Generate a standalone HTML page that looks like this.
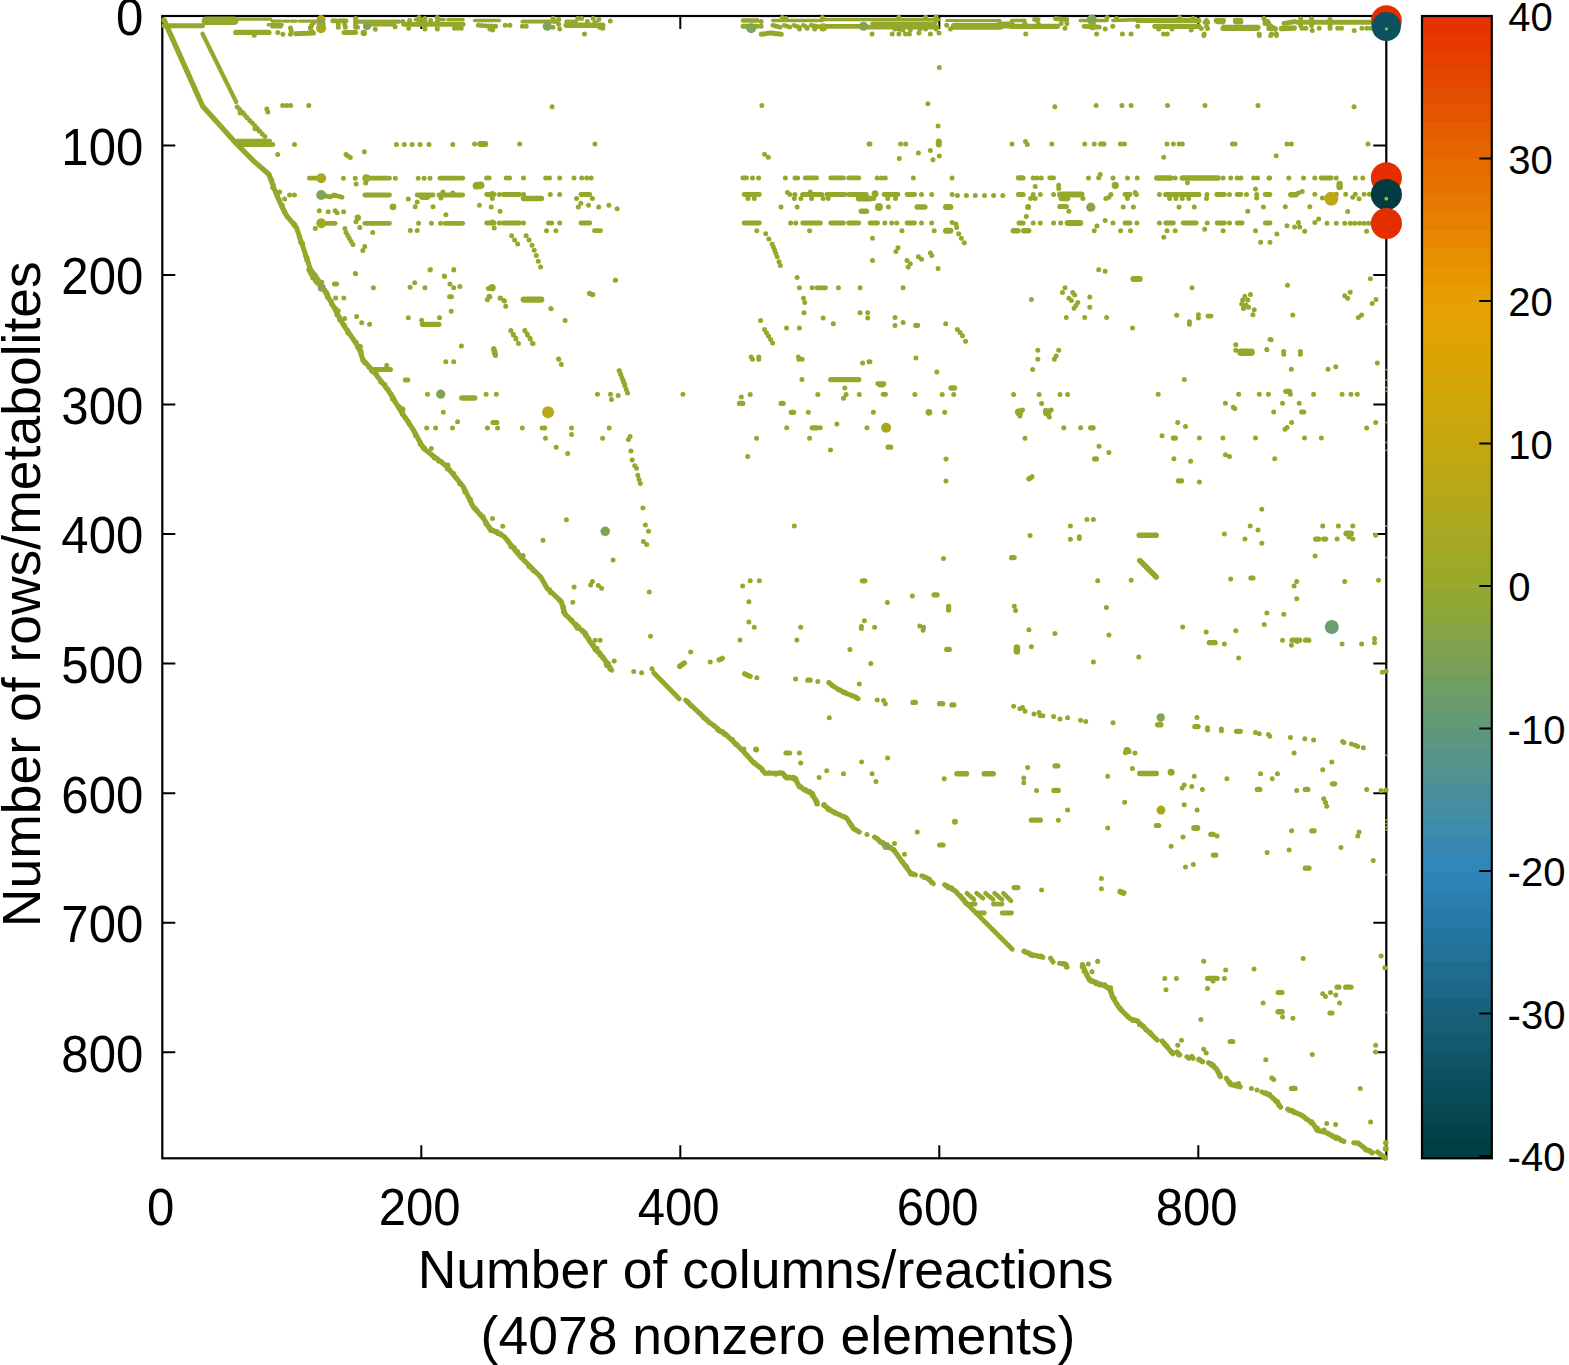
<!DOCTYPE html>
<html><head><meta charset="utf-8"><title>Sparsity pattern</title>
<style>html,body{margin:0;padding:0;background:#fff}svg{display:block}text{font-family:"Liberation Sans",sans-serif;fill:#000}</style></head>
<body>
<svg width="1569" height="1365" viewBox="0 0 1569 1365">
<rect x="0" y="0" width="1569" height="1365" fill="#fff"/>
<rect x="1422.0" y="16.00" width="69.8" height="18.45" fill="#e63200"/><rect x="1422.0" y="33.85" width="69.8" height="18.45" fill="#e63800"/><rect x="1422.0" y="51.70" width="69.8" height="18.45" fill="#e54000"/><rect x="1422.0" y="69.55" width="69.8" height="18.45" fill="#e54600"/><rect x="1422.0" y="87.39" width="69.8" height="18.45" fill="#e54e00"/><rect x="1422.0" y="105.24" width="69.8" height="18.45" fill="#e55500"/><rect x="1422.0" y="123.09" width="69.8" height="18.45" fill="#e55d00"/><rect x="1422.0" y="140.94" width="69.8" height="18.45" fill="#e56400"/><rect x="1422.0" y="158.79" width="69.8" height="18.45" fill="#e56c00"/><rect x="1422.0" y="176.64" width="69.8" height="18.45" fill="#e57300"/><rect x="1422.0" y="194.48" width="69.8" height="18.45" fill="#e67a00"/><rect x="1422.0" y="212.33" width="69.8" height="18.45" fill="#e68100"/><rect x="1422.0" y="230.18" width="69.8" height="18.45" fill="#e68800"/><rect x="1422.0" y="248.03" width="69.8" height="18.45" fill="#e68f00"/><rect x="1422.0" y="265.88" width="69.8" height="18.45" fill="#e69600"/><rect x="1422.0" y="283.73" width="69.8" height="18.45" fill="#e69d00"/><rect x="1422.0" y="301.57" width="69.8" height="18.45" fill="#e4a101"/><rect x="1422.0" y="319.42" width="69.8" height="18.45" fill="#e1a202"/><rect x="1422.0" y="337.27" width="69.8" height="18.45" fill="#dda303"/><rect x="1422.0" y="355.12" width="69.8" height="18.45" fill="#daa404"/><rect x="1422.0" y="372.97" width="69.8" height="18.45" fill="#d6a506"/><rect x="1422.0" y="390.82" width="69.8" height="18.45" fill="#d1a608"/><rect x="1422.0" y="408.67" width="69.8" height="18.45" fill="#cca60b"/><rect x="1422.0" y="426.51" width="69.8" height="18.45" fill="#c7a70d"/><rect x="1422.0" y="444.36" width="69.8" height="18.45" fill="#c2a710"/><rect x="1422.0" y="462.21" width="69.8" height="18.45" fill="#bca714"/><rect x="1422.0" y="480.06" width="69.8" height="18.45" fill="#b7a819"/><rect x="1422.0" y="497.91" width="69.8" height="18.45" fill="#b1a81d"/><rect x="1422.0" y="515.76" width="69.8" height="18.45" fill="#aba821"/><rect x="1422.0" y="533.60" width="69.8" height="18.45" fill="#a5a824"/><rect x="1422.0" y="551.45" width="69.8" height="18.45" fill="#9fa928"/><rect x="1422.0" y="569.30" width="69.8" height="18.45" fill="#99a92b"/><rect x="1422.0" y="587.15" width="69.8" height="18.45" fill="#93a832"/><rect x="1422.0" y="605.00" width="69.8" height="18.45" fill="#8ca63c"/><rect x="1422.0" y="622.85" width="69.8" height="18.45" fill="#85a445"/><rect x="1422.0" y="640.70" width="69.8" height="18.45" fill="#7ea24f"/><rect x="1422.0" y="658.54" width="69.8" height="18.45" fill="#78a059"/><rect x="1422.0" y="676.39" width="69.8" height="18.45" fill="#709e62"/><rect x="1422.0" y="694.24" width="69.8" height="18.45" fill="#6a9c6c"/><rect x="1422.0" y="712.09" width="69.8" height="18.45" fill="#629a75"/><rect x="1422.0" y="729.94" width="69.8" height="18.45" fill="#5c987f"/><rect x="1422.0" y="747.79" width="69.8" height="18.45" fill="#569588"/><rect x="1422.0" y="765.63" width="69.8" height="18.45" fill="#509392"/><rect x="1422.0" y="783.48" width="69.8" height="18.45" fill="#4a909b"/><rect x="1422.0" y="801.33" width="69.8" height="18.45" fill="#448ea4"/><rect x="1422.0" y="819.18" width="69.8" height="18.45" fill="#3e8cab"/><rect x="1422.0" y="837.03" width="69.8" height="18.45" fill="#3889b2"/><rect x="1422.0" y="854.88" width="69.8" height="18.45" fill="#3287b9"/><rect x="1422.0" y="872.72" width="69.8" height="18.45" fill="#2e84b9"/><rect x="1422.0" y="890.57" width="69.8" height="18.45" fill="#2a7fb0"/><rect x="1422.0" y="908.42" width="69.8" height="18.45" fill="#287ba8"/><rect x="1422.0" y="926.27" width="69.8" height="18.45" fill="#24769f"/><rect x="1422.0" y="944.12" width="69.8" height="18.45" fill="#227297"/><rect x="1422.0" y="961.97" width="69.8" height="18.45" fill="#1e6c8f"/><rect x="1422.0" y="979.82" width="69.8" height="18.45" fill="#1c6886"/><rect x="1422.0" y="997.66" width="69.8" height="18.45" fill="#18627e"/><rect x="1422.0" y="1015.51" width="69.8" height="18.45" fill="#165e76"/><rect x="1422.0" y="1033.36" width="69.8" height="18.45" fill="#12596f"/><rect x="1422.0" y="1051.21" width="69.8" height="18.45" fill="#105467"/><rect x="1422.0" y="1069.06" width="69.8" height="18.45" fill="#0c4f60"/><rect x="1422.0" y="1086.91" width="69.8" height="18.45" fill="#0a4b58"/><rect x="1422.0" y="1104.75" width="69.8" height="18.45" fill="#074752"/><rect x="1422.0" y="1122.60" width="69.8" height="18.45" fill="#04424a"/><rect x="1422.0" y="1140.45" width="69.8" height="18.45" fill="#013e44"/>
<rect x="1422.0" y="16.0" width="69.8" height="1142.3" fill="none" stroke="#000" stroke-width="2.2"/>
<text x="1508.2" y="31.4" font-size="40">40</text>
<text x="1508.2" y="173.9" font-size="40">30</text>
<text x="1508.2" y="316.4" font-size="40">20</text>
<text x="1508.2" y="458.9" font-size="40">10</text>
<text x="1508.2" y="601.4" font-size="40">0</text>
<text x="1507.6" y="743.9" font-size="40">-10</text>
<text x="1507.6" y="886.3" font-size="40">-20</text>
<text x="1507.6" y="1028.8" font-size="40">-30</text>
<text x="1507.6" y="1171.3" font-size="40">-40</text>
<path d="M1479.3 158.6H1491.8M1479.3 301.1H1491.8M1479.3 443.6H1491.8M1479.3 586.1H1491.8M1479.3 728.6H1491.8M1479.3 871.0H1491.8M1479.3 1013.5H1491.8M1479.3 1156.0H1491.8" stroke="#000" stroke-width="2" fill="none"/>
<rect x="162.3" y="16.0" width="1224.0" height="1142.3" fill="none" stroke="#000" stroke-width="2.2"/>
<text transform="translate(160.7 1224.7) scale(.95 1)" font-size="51.7" text-anchor="middle">0</text>
<text transform="translate(419.7 1224.7) scale(.95 1)" font-size="51.7" text-anchor="middle">200</text>
<text transform="translate(678.7 1224.7) scale(.95 1)" font-size="51.7" text-anchor="middle">400</text>
<text transform="translate(937.7 1224.7) scale(.95 1)" font-size="51.7" text-anchor="middle">600</text>
<text transform="translate(1196.7 1224.7) scale(.95 1)" font-size="51.7" text-anchor="middle">800</text>
<text transform="translate(143.3 35.3) scale(.95 1)" font-size="51.7" text-anchor="end">0</text>
<text transform="translate(143.3 164.8) scale(.95 1)" font-size="51.7" text-anchor="end">100</text>
<text transform="translate(143.3 294.4) scale(.95 1)" font-size="51.7" text-anchor="end">200</text>
<text transform="translate(143.3 423.9) scale(.95 1)" font-size="51.7" text-anchor="end">300</text>
<text transform="translate(143.3 553.4) scale(.95 1)" font-size="51.7" text-anchor="end">400</text>
<text transform="translate(143.3 682.9) scale(.95 1)" font-size="51.7" text-anchor="end">500</text>
<text transform="translate(143.3 812.5) scale(.95 1)" font-size="51.7" text-anchor="end">600</text>
<text transform="translate(143.3 942.0) scale(.95 1)" font-size="51.7" text-anchor="end">700</text>
<text transform="translate(143.3 1071.5) scale(.95 1)" font-size="51.7" text-anchor="end">800</text>
<path d="M421.3 1158.3v-13M421.3 16.0v13M680.3 1158.3v-13M680.3 16.0v13M939.3 1158.3v-13M939.3 16.0v13M1198.3 1158.3v-13M1198.3 16.0v13M162.3 145.5h13M1386.3 145.5h-13M162.3 275.1h13M1386.3 275.1h-13M162.3 404.6h13M1386.3 404.6h-13M162.3 534.1h13M1386.3 534.1h-13M162.3 663.6h13M1386.3 663.6h-13M162.3 793.2h13M1386.3 793.2h-13M162.3 922.7h13M1386.3 922.7h-13M162.3 1052.2h13M1386.3 1052.2h-13" stroke="#000" stroke-width="2" fill="none"/>
<path d="M268.7 174.6h0M270.3 177.7h0M271.7 179.7h0M272.0 181.0h0M273.4 185.1h0M272.7 187.5h0M276.5 192.4h0M277.5 195.2h0M279.0 199.3h0M282.3 205.3h0M282.0 207.3h0M283.4 209.7h0M284.2 212.1h0M287.5 216.9h0M293.7 223.2h0M294.9 224.8h0M294.7 225.9h0M299.4 236.7h0M300.5 242.1h0M302.7 243.6h0M305.5 255.5h0M307.2 257.9h0M306.7 259.7h0M308.3 262.4h0M309.8 267.8h0M315.1 275.2h0M237.2 106.9h0M239.7 109.6h0M242.2 112.3h0M244.7 115.0h0M247.2 117.7h0M249.7 120.4h0M252.3 123.1h0M254.8 125.8h0M257.3 128.5h0M259.8 131.2h0M262.3 133.9h0M264.9 136.6h0M240.1 112.9h0M243.1 112.9h0M247.0 117.8h0M255.0 128.7h0M258.9 130.7h0M272.8 144.5h0M294.5 144.5h0M277.7 154.4h0M396.4 144.5h0M404.3 144.5h0M412.2 144.5h0M420.1 144.5h0M429.0 144.5h0M452.8 144.5h0M346.0 154.4h0M347.9 156.0h0M350.3 157.4h0M364.4 151.8h0M282.7 105.4h0M286.6 105.4h0M290.6 105.4h0M308.8 105.4h0M266.8 108.9h0M267.8 111.9h0M343.4 178.2h0M355.3 178.2h0M395.4 178.2h0M418.2 178.2h0M424.1 178.2h0M430.0 178.2h0M356.2 184.1h0M365.7 183.1h0M289.6 195.0h0M294.5 195.0h0M284.6 198.9h0M279.7 192.0h0M408.3 198.9h0M442.9 192.0h0M440.9 197.9h0M452.8 193.0h0M319.3 210.8h0M328.2 211.8h0M335.1 210.8h0M337.1 212.8h0M343.6 211.8h0M357.8 217.7h0M355.9 221.7h0M415.2 206.8h0M417.2 201.9h0M433.0 206.8h0M445.9 214.8h0M315.3 228.6h0M345.0 228.6h0M359.8 227.6h0M372.7 232.6h0M410.3 230.6h0M417.2 230.6h0M418.6 223.3h0M431.4 223.3h0M440.5 223.3h0M346.0 232.6h0M347.7 235.5h0M349.4 238.5h0M351.2 241.5h0M352.9 244.4h0M364.8 246.4h0M362.8 250.4h0M355.3 273.5h0M430.4 269.6h0M444.3 276.1h0M453.8 269.6h0M290.5 27.9h0M291.2 31.1h0M290.5 34.3h0M254.2 35.2h0M277.8 32.4h0M282.9 34.3h0M311.6 31.1h0M310.3 27.9h0M311.6 25.4h0M313.5 22.8h0M338.3 24.7h0M344.7 24.7h0M338.3 27.3h0M345.4 27.3h0M355.6 18.4h0M355.6 20.7h0M355.6 23.0h0M355.6 25.3h0M355.6 27.3h0M357.5 27.3h0M375.3 29.2h0M395.1 26.7h0M408.6 28.2h0M424.9 28.2h0M437.3 28.2h0M454.5 28.2h0M419.1 17.6h0M419.1 21.5h0M424.9 18.6h0M424.9 21.5h0M424.9 29.1h0M437.3 17.6h0M437.3 21.5h0M437.3 29.1h0M402.9 21.5h0M409.6 20.5h0M430.6 20.5h0M457.4 28.2h0M461.2 28.2h0M478.4 25.3h0M481.8 25.5h0M485.3 25.7h0M488.7 25.9h0M492.2 26.1h0M495.6 26.3h0M489.9 29.1h0M492.7 30.1h0M505.2 25.3h0M509.9 25.3h0M522.4 26.3h0M526.2 26.3h0M553.0 18.6h0M554.9 21.5h0M558.7 19.6h0M558.7 24.3h0M559.7 29.1h0M553.0 27.2h0M577.8 18.6h0M581.6 18.6h0M593.1 18.6h0M598.9 19.6h0M599.8 27.2h0M602.7 28.2h0M584.5 33.9h0M610.3 21.1h0M587.4 21.5h0M595.0 22.4h0M761.2 21.5h0M761.2 26.3h0M782.2 17.6h0M786.0 18.6h0M799.4 29.1h0M807.1 28.2h0M814.7 29.1h0M822.4 17.6h0M822.4 29.1h0M872.1 33.9h0M892.2 33.9h0M898.9 33.9h0M905.5 33.9h0M909.4 33.9h0M918.9 32.9h0M930.4 33.9h0M939.0 32.9h0M895.0 29.1h0M902.7 30.1h0M910.3 30.1h0M919.9 29.1h0M936.1 16.7h0M936.1 20.5h0M936.1 29.1h0M898.9 17.3h0M898.9 29.1h0M925.6 17.3h0M925.6 29.1h0M946.7 25.3h0M950.5 29.1h0M1065.0 28.2h0M1025.8 33.9h0M1024.9 23.4h0M1038.2 23.4h0M1061.2 23.4h0M1066.9 23.4h0M1105.2 29.1h0M1112.8 26.3h0M1137.7 26.3h0M1107.1 17.6h0M1116.6 18.6h0M1179.7 17.6h0M1193.1 18.6h0M1206.5 20.5h0M1206.5 26.3h0M1096.6 33.9h0M1122.4 33.9h0M1131.0 33.9h0M1163.5 33.9h0M1167.3 33.9h0M1204.2 33.9h0M1158.7 29.1h0M1172.1 29.1h0M1191.2 30.1h0M1263.9 18.6h0M1267.7 21.5h0M1259.1 33.9h0M1271.5 33.9h0M1276.3 33.9h0M1205.1 22.2h0M1207.6 22.2h0M1207.6 28.6h0M1201.3 28.6h0M1203.8 35.6h0M1264.4 19.6h0M1265.0 23.5h0M1268.8 23.5h0M1259.3 35.6h0M1270.7 35.6h0M1276.5 35.6h0M1302.0 28.3h0M1305.8 28.3h0M1319.2 28.3h0M1330.0 28.3h0M1337.7 28.3h0M1341.5 28.3h0M1361.9 28.3h0M1367.0 28.3h0M1370.8 28.3h0M1312.2 30.5h0M1354.2 30.5h0M1300.7 19.0h0M1311.5 19.0h0M1330.0 19.4h0M1300.7 25.4h0M1311.5 25.4h0M1330.0 25.4h0M552.1 106.8h0M761.9 105.5h0M764.5 154.2h0M768.3 157.3h0M474.6 144.0h0M519.7 144.0h0M594.9 144.0h0M869.0 144.0h0M486.6 177.9h0M489.1 177.9h0M506.2 177.9h0M509.5 177.9h0M523.5 177.9h0M545.7 177.9h0M549.5 177.9h0M559.7 177.9h0M574.0 177.9h0M581.7 177.9h0M586.8 177.9h0M591.1 177.9h0M752.5 177.9h0M758.6 177.9h0M785.4 177.9h0M795.0 177.9h0M797.6 177.9h0M499.3 194.5h0M523.5 194.5h0M550.3 194.5h0M559.7 194.5h0M795.0 194.5h0M787.4 192.5h0M789.9 194.5h0M810.3 191.9h0M492.4 198.6h0M576.6 198.6h0M592.4 198.6h0M747.9 198.6h0M754.3 198.6h0M794.3 198.6h0M800.9 198.6h0M811.6 198.6h0M823.1 198.6h0M828.2 198.6h0M479.4 205.2h0M491.2 207.0h0M500.1 211.3h0M580.9 203.2h0M578.3 207.0h0M588.5 205.2h0M598.7 207.0h0M608.9 205.2h0M617.1 208.8h0M781.0 207.0h0M797.1 207.0h0M499.3 223.0h0M523.5 223.0h0M548.5 223.0h0M551.6 223.0h0M559.7 223.0h0M790.7 223.0h0M795.8 223.0h0M494.2 228.1h0M546.5 230.7h0M555.9 230.7h0M756.8 230.7h0M765.7 233.8h0M809.6 230.7h0M511.6 235.8h0M514.6 240.1h0M517.7 244.0h0M526.1 235.8h0M529.1 240.1h0M532.0 245.2h0M534.2 250.3h0M536.3 255.4h0M538.3 261.3h0M540.6 266.9h0M768.8 238.9h0M772.1 244.0h0M774.7 250.3h0M777.2 256.7h0M779.0 261.8h0M780.3 265.6h0M773.4 247.0h0M775.9 253.6h0M615.3 280.2h0M797.1 277.6h0M488.4 288.6h0M489.1 296.2h0M487.3 299.5h0M500.1 298.3h0M503.9 300.5h0M505.7 306.2h0M589.8 293.2h0M592.9 294.4h0M550.8 308.5h0M565.1 320.4h0M799.4 287.8h0M812.1 287.8h0M838.4 287.8h0M860.1 287.8h0M803.5 298.3h0M804.7 302.6h0M804.0 312.8h0M860.1 312.8h0M867.7 312.8h0M867.7 317.9h0M823.1 317.9h0M833.3 323.7h0M760.6 320.4h0M786.6 328.1h0M799.4 328.1h0M510.8 330.6h0M513.3 334.9h0M515.9 339.1h0M518.4 343.4h0M524.8 330.6h0M527.5 334.9h0M530.3 339.1h0M533.0 343.4h0M764.5 329.4h0M766.5 332.7h0M768.5 336.1h0M770.6 339.5h0M772.6 342.9h0M493.7 349.0h0M495.0 352.3h0M495.5 355.4h0M558.5 358.9h0M561.3 364.5h0M751.2 356.9h0M752.5 359.2h0M758.8 356.9h0M758.8 359.2h0M798.4 356.9h0M798.9 359.2h0M802.2 359.2h0M862.6 363.0h0M869.0 361.7h0M619.1 370.7h0M620.5 374.0h0M621.9 377.4h0M623.3 380.8h0M624.7 384.2h0M801.9 379.6h0M939.3 67.5h0M927.9 103.7h0M938.1 125.9h0M918.4 152.9h0M930.4 150.4h0M939.3 156.0h0M933.0 159.8h0M899.3 158.5h0M1163.7 157.3h0M1096.1 105.5h0M1121.9 105.5h0M1131.1 105.5h0M1167.5 105.5h0M1205.0 105.5h0M1258.0 105.5h0M1054.8 106.8h0M870.0 144.0h0M900.6 144.0h0M905.7 144.0h0M1012.0 144.0h0M1051.8 144.0h0M1084.7 144.0h0M1094.3 144.0h0M1120.4 144.0h0M1124.4 144.0h0M1232.5 144.0h0M1235.1 144.0h0M1025.5 141.5h0M1027.3 144.5h0M1167.0 144.0h0M1173.4 144.0h0M1179.2 144.0h0M1182.3 144.0h0M877.1 177.9h0M881.5 177.9h0M885.3 177.9h0M913.3 177.9h0M952.1 177.9h0M1033.2 177.9h0M1037.0 177.9h0M1041.3 177.9h0M1088.5 177.9h0M1113.0 177.9h0M1127.5 177.9h0M1137.2 177.9h0M1175.2 177.9h0M1223.1 177.9h0M1230.7 177.9h0M1237.1 177.9h0M1240.9 177.9h0M1253.7 177.9h0M1257.5 177.9h0M1269.0 177.9h0M1098.7 177.7h0M1100.2 174.6h0M1035.2 186.6h0M1058.7 185.3h0M1058.7 188.4h0M1187.4 182.8h0M921.5 194.5h0M931.7 194.5h0M952.1 194.5h0M1033.2 194.5h0M1040.3 194.5h0M1053.6 194.5h0M1110.9 194.5h0M1159.4 194.5h0M1207.0 194.5h0M1229.5 194.5h0M1246.5 194.5h0M957.4 195.5h0M966.4 195.5h0M975.3 195.5h0M984.5 195.5h0M993.6 195.5h0M1002.8 195.5h0M1135.1 192.5h0M1136.4 194.5h0M1255.5 189.1h0M1256.7 194.5h0M1256.7 198.1h0M873.8 198.6h0M887.8 198.6h0M895.5 198.6h0M1030.6 198.6h0M1035.2 198.6h0M1082.9 198.6h0M1105.8 198.6h0M1127.5 198.6h0M1169.6 198.6h0M1175.9 198.6h0M1182.3 198.6h0M1188.7 198.6h0M1206.5 198.6h0M1108.9 197.3h0M888.4 207.0h0M1123.2 207.0h0M1133.4 207.0h0M1179.0 207.0h0M1194.3 207.0h0M1263.4 207.0h0M1068.9 211.3h0M1247.8 211.3h0M1026.3 216.4h0M884.8 223.0h0M891.7 223.0h0M896.8 223.0h0M921.5 223.0h0M931.7 223.0h0M1033.2 223.0h0M1040.3 223.0h0M1053.6 223.0h0M1060.7 223.0h0M1113.0 223.0h0M1136.9 223.0h0M1159.4 223.0h0M1207.3 223.0h0M1229.5 223.0h0M952.1 222.5h0M955.9 224.1h0M1105.1 220.5h0M901.9 230.7h0M934.2 230.7h0M1120.6 230.7h0M1130.5 230.7h0M1167.0 230.7h0M1175.2 230.7h0M1223.1 230.7h0M1255.5 230.7h0M956.7 227.4h0M958.7 233.8h0M961.3 238.3h0M964.3 242.7h0M1096.9 226.1h0M1094.3 230.7h0M1204.7 229.2h0M1163.7 237.3h0M1260.6 242.2h0M1270.0 242.2h0M872.5 238.3h0M872.5 260.5h0M898.0 247.8h0M896.0 251.6h0M930.4 252.9h0M931.7 255.4h0M918.4 256.7h0M921.5 259.2h0M907.0 260.5h0M910.3 263.8h0M908.2 266.9h0M938.1 268.4h0M1098.7 269.7h0M1105.1 271.2h0M903.1 287.8h0M1192.0 287.8h0M1065.0 287.8h0M1062.5 292.4h0M1072.7 292.4h0M1074.7 294.9h0M1068.9 298.3h0M1071.4 300.5h0M1077.8 302.6h0M1076.0 305.6h0M1074.0 308.2h0M1089.8 297.0h0M1089.8 307.2h0M1031.4 299.5h0M1244.8 296.2h0M1250.4 294.4h0M1242.7 300.0h0M1247.8 300.0h0M1241.7 303.9h0M1246.0 305.1h0M1243.5 308.5h0M1248.6 307.2h0M1254.2 309.7h0M1252.9 314.8h0M1066.3 317.4h0M1084.7 317.4h0M1106.6 317.4h0M1176.7 315.3h0M1198.4 314.8h0M1198.4 317.9h0M1189.4 321.7h0M1189.4 324.3h0M1132.6 328.1h0M895.0 317.4h0M895.0 325.5h0M903.1 322.5h0M945.7 323.7h0M957.4 329.4h0M960.0 332.4h0M962.5 335.7h0M965.6 341.3h0M1037.8 350.3h0M1037.8 359.2h0M1032.7 369.6h0M1058.7 350.3h0M1056.1 356.1h0M1054.3 359.2h0M915.9 357.9h0M936.8 371.9h0M870.0 361.7h0M1235.8 344.7h0M1235.8 350.3h0M1266.9 349.8h0M1270.0 339.6h0M1184.3 379.6h0M1354.0 106.7h0M1276.2 155.8h0M1276.9 234.1h0M1287.0 144.1h0M1291.3 144.1h0M1367.9 144.1h0M1269.8 178.0h0M1288.8 178.0h0M1303.5 178.0h0M1314.8 178.0h0M1336.3 178.0h0M1355.3 178.0h0M1362.8 178.0h0M1298.4 192.9h0M1302.2 191.6h0M1322.4 198.0h0M1352.7 197.2h0M1359.1 198.7h0M1314.8 194.2h0M1336.3 194.2h0M1345.7 194.2h0M1355.3 194.2h0M1364.1 194.2h0M1369.4 194.2h0M1285.3 206.8h0M1309.8 206.8h0M1347.7 211.4h0M1287.0 225.8h0M1294.6 227.0h0M1298.4 222.5h0M1299.7 227.0h0M1304.7 231.3h0M1314.8 222.5h0M1318.6 218.9h0M1366.6 231.3h0M1327.0 223.2h0M1336.3 223.2h0M1344.7 223.2h0M1350.2 223.2h0M1354.8 223.2h0M1359.6 223.2h0M1364.1 223.2h0M1368.4 223.2h0M1371.9 223.2h0M1370.4 278.8h0M1287.5 285.2h0M1350.2 292.2h0M1344.7 295.8h0M1347.7 298.3h0M1376.0 299.6h0M1372.2 303.4h0M1361.6 315.0h0M1358.3 317.5h0M1292.8 315.0h0M1271.1 339.7h0M1266.8 349.4h0M1283.7 351.4h0M1283.7 354.2h0M1300.4 351.4h0M1300.4 354.2h0M1291.3 369.3h0M1328.0 369.3h0M1335.8 366.8h0M1377.3 363.0h0M309.6 270.1h0M310.7 273.1h0M311.6 274.0h0M312.7 277.8h0M316.0 281.4h0M317.8 283.5h0M322.6 286.4h0M324.8 289.9h0M326.7 292.6h0M327.7 294.5h0M327.4 297.2h0M331.2 301.6h0M331.4 304.1h0M335.6 308.5h0M336.2 310.4h0M336.9 314.7h0M338.9 316.7h0M339.7 320.0h0M344.4 325.2h0M347.5 330.2h0M347.8 333.1h0M355.3 341.8h0M356.2 342.8h0M357.4 346.9h0M359.0 349.5h0M361.1 351.4h0M360.8 353.6h0M363.1 360.8h0M364.6 362.8h0M368.9 367.2h0M371.3 370.4h0M372.3 371.5h0M376.2 373.8h0M380.7 382.1h0M384.7 384.5h0M386.1 388.0h0M388.0 389.6h0M391.2 394.3h0M392.9 397.1h0M392.5 398.9h0M394.8 401.3h0M398.0 406.3h0M399.6 407.1h0M400.5 408.5h0M402.2 413.9h0M405.1 417.6h0M408.2 421.2h0M409.3 423.8h0M414.0 431.4h0M415.3 433.5h0M415.4 435.6h0M420.1 443.9h0M422.7 446.6h0M424.6 448.1h0M432.5 455.7h0M434.3 457.9h0M437.1 458.6h0M438.5 460.9h0M439.7 461.0h0M441.5 461.8h0M445.8 465.5h0M446.9 467.1h0M447.4 468.9h0M453.7 473.6h0M455.9 477.6h0M459.7 483.8h0M464.0 489.3h0M464.7 491.8h0M470.6 499.6h0M471.4 503.4h0M473.5 507.4h0M475.8 508.8h0M477.4 511.1h0M480.1 514.0h0M480.7 514.9h0M483.0 516.5h0M486.0 524.1h0M488.5 526.3h0M489.9 528.3h0M490.8 530.4h0M493.4 531.1h0M497.1 531.6h0M497.9 533.6h0M500.7 533.7h0M507.7 540.3h0M508.8 542.2h0M510.7 546.2h0M511.1 546.7h0M514.3 547.6h0M515.2 550.3h0M517.5 551.6h0M517.8 553.1h0M519.4 554.7h0M521.5 557.8h0M528.9 566.5h0M531.7 568.4h0M533.3 570.7h0M540.1 576.4h0M549.6 589.8h0M550.5 592.5h0M559.2 600.3h0M562.0 604.8h0M563.5 607.1h0M563.0 608.5h0M563.4 611.8h0M564.8 612.8h0M321.7 282.2h0M338.2 310.8h0M344.6 318.4h0M360.4 346.5h0M386.7 365.6h0M431.3 448.5h0M447.9 465.0h0M492.5 518.6h0M502.7 526.2h0M523.1 555.5h0M572.8 602.2h0M355.6 273.8h0M430.0 270.0h0M453.7 270.0h0M444.6 276.4h0M334.4 284.0h0M336.5 284.0h0M373.4 287.8h0M414.7 282.7h0M410.1 287.3h0M424.9 287.8h0M449.9 284.0h0M453.7 287.8h0M459.8 286.6h0M449.6 296.8h0M451.4 296.8h0M451.2 311.3h0M335.7 298.0h0M343.8 298.0h0M356.6 316.4h0M361.7 322.8h0M369.6 324.3h0M408.3 317.7h0M421.6 320.2h0M439.5 317.7h0M488.7 288.4h0M489.9 296.8h0M487.4 299.8h0M500.6 298.0h0M504.5 301.1h0M505.7 306.2h0M551.1 308.8h0M565.1 320.5h0M589.4 293.5h0M592.4 294.7h0M615.6 280.2h0M510.8 330.7h0M513.4 334.2h0M515.9 338.3h0M518.5 343.4h0M524.9 330.7h0M527.4 334.2h0M530.0 338.3h0M532.5 343.4h0M461.4 346.0h0M445.8 361.8h0M453.7 361.8h0M558.8 359.2h0M561.3 364.3h0M427.5 394.2h0M486.1 394.2h0M496.3 394.2h0M597.5 394.2h0M610.5 394.2h0M618.2 395.4h0M611.5 399.5h0M682.9 394.2h0M443.3 412.3h0M619.4 370.7h0M620.8 374.4h0M622.2 378.2h0M623.5 381.9h0M624.9 385.7h0M626.2 389.4h0M627.6 393.1h0M426.7 428.1h0M435.6 428.1h0M452.5 428.1h0M457.6 421.7h0M487.4 428.1h0M497.6 428.1h0M522.3 428.1h0M542.2 428.1h0M544.7 428.1h0M571.5 428.1h0M571.5 434.4h0M609.2 428.1h0M545.5 438.3h0M602.6 438.3h0M556.2 447.2h0M567.7 453.6h0M630.1 436.5h0M628.4 439.5h0M630.9 451.0h0M632.2 459.9h0M634.7 465.8h0M636.5 468.3h0M637.8 475.2h0M639.1 479.6h0M640.3 483.6h0M642.9 507.9h0M645.4 524.9h0M648.5 531.3h0M643.4 541.5h0M646.7 544.6h0M566.4 519.8h0M543.0 540.2h0M613.1 559.9h0M574.1 586.9h0M592.4 581.5h0M590.6 584.9h0M598.3 585.4h0M601.6 588.2h0M649.3 592.0h0M571.7 620.1h0M576.1 624.2h0M576.4 626.3h0M582.3 630.6h0M582.8 632.0h0M585.2 634.9h0M585.9 635.8h0M589.0 639.0h0M591.9 643.2h0M593.7 645.6h0M595.2 649.7h0M597.1 651.1h0M597.2 651.2h0M599.7 652.7h0M600.3 655.3h0M602.5 657.5h0M604.0 659.3h0M606.2 661.8h0M610.0 667.2h0M609.9 669.0h0M595.1 640.2h0M600.2 640.2h0M614.2 660.9h0M633.7 671.4h0M641.6 672.7h0M650.5 636.3h0M690.7 651.9h0M652.0 668.8h0M687.4 701.6h0M688.5 702.6h0M690.9 705.4h0M700.1 713.4h0M703.6 717.2h0M704.0 717.9h0M707.0 720.1h0M709.1 722.5h0M711.1 723.4h0M714.1 725.6h0M717.2 728.4h0M718.9 730.2h0M750.2 394.4h0M817.8 394.4h0M846.1 394.4h0M859.3 394.4h0M914.9 394.4h0M942.2 394.4h0M953.7 394.4h0M1013.6 394.4h0M1039.1 394.4h0M1060.0 394.4h0M1067.6 394.4h0M741.3 397.0h0M844.8 388.1h0M843.5 398.3h0M1041.6 403.4h0M808.3 412.3h0M873.4 412.3h0M944.7 412.3h0M1017.4 411.8h0M1022.5 410.0h0M1018.7 413.6h0M1019.9 416.1h0M1045.4 410.5h0M1051.1 410.0h0M1047.2 413.6h0M1049.3 416.9h0M786.7 427.8h0M820.3 427.8h0M867.0 427.8h0M1063.8 427.8h0M1080.6 427.8h0M836.9 424.0h0M756.6 438.3h0M809.6 438.3h0M1025.0 438.3h0M830.5 450.0h0M1099.0 446.2h0M747.7 456.4h0M946.0 458.9h0M946.0 481.1h0M794.3 526.0h0M1087.0 519.6h0M1093.4 519.6h0M1070.4 526.0h0M1030.1 535.4h0M1070.4 539.2h0M1079.3 536.7h0M1079.3 538.5h0M943.5 558.6h0M750.2 580.8h0M759.4 580.8h0M742.6 585.9h0M1097.7 580.8h0M748.9 601.7h0M912.4 596.1h0M887.4 602.5h0M1014.3 606.3h0M1015.6 610.6h0M748.9 622.1h0M754.3 627.2h0M800.7 627.2h0M864.4 620.8h0M861.4 626.4h0M861.4 628.5h0M874.6 627.2h0M919.8 625.9h0M923.6 627.2h0M923.1 630.3h0M1028.9 629.7h0M1054.9 633.6h0M740.0 639.9h0M796.9 639.9h0M849.9 649.4h0M1031.4 646.8h0M710.2 662.1h0M870.8 663.4h0M1093.4 662.1h0M756.9 677.7h0M795.6 678.9h0M817.8 681.5h0M829.1 682.6h0M831.5 684.6h0M833.0 686.1h0M838.4 689.5h0M840.1 690.0h0M842.8 691.5h0M843.7 692.4h0M845.0 692.5h0M846.8 693.8h0M851.3 695.5h0M855.8 697.1h0M857.9 698.7h0M859.3 684.0h0M877.2 699.9h0M883.6 700.6h0M885.3 703.7h0M829.3 717.7h0M1013.6 706.2h0M1019.9 708.8h0M1022.5 707.5h0M1025.0 711.3h0M1034.0 713.9h0M1039.1 712.6h0M1040.3 715.7h0M1042.9 715.7h0M1053.6 716.4h0M1060.0 719.0h0M1067.6 717.7h0M1080.6 720.2h0M1085.7 721.5h0M1158.2 394.3h0M1238.6 394.3h0M1259.3 394.3h0M1268.4 394.3h0M1290.4 394.3h0M1313.6 394.3h0M1342.1 394.3h0M1351.0 394.3h0M1357.3 394.3h0M1225.4 403.2h0M1233.3 407.2h0M1234.8 408.5h0M1282.5 403.2h0M1299.2 403.2h0M1273.7 412.0h0M1177.7 422.6h0M1185.5 426.4h0M1291.6 422.6h0M1287.1 427.4h0M1285.0 429.2h0M1366.7 428.0h0M1375.7 422.6h0M1199.4 438.1h0M1222.9 438.1h0M1255.5 438.1h0M1304.5 438.1h0M1321.4 438.1h0M1162.0 435.8h0M1108.9 452.5h0M1225.4 454.7h0M1229.5 456.5h0M1173.9 458.8h0M1190.6 461.3h0M1274.7 458.8h0M1199.4 482.0h0M1261.8 509.3h0M1250.2 526.0h0M1258.0 530.0h0M1224.4 534.1h0M1244.9 539.1h0M1261.8 543.2h0M1322.7 526.0h0M1338.4 526.0h0M1352.8 526.0h0M1337.1 539.1h0M1349.0 537.1h0M1352.8 539.1h0M1375.7 535.3h0M1315.1 556.0h0M1131.2 580.3h0M1230.7 579.0h0M1296.7 581.6h0M1294.1 585.9h0M1344.7 581.6h0M1378.5 580.3h0M1296.7 598.7h0M1106.4 607.6h0M1266.9 612.9h0M1283.8 614.2h0M1264.3 624.5h0M1182.7 627.0h0M1206.2 632.1h0M1235.8 630.8h0M1224.4 644.0h0M1238.6 658.1h0M1138.8 656.9h0M1108.9 634.9h0M1282.5 640.2h0M1291.4 645.2h0M1297.2 641.4h0M1342.1 644.0h0M1361.6 644.0h0M1374.5 638.4h0M1374.5 642.7h0M1382.3 672.3h0M1386.1 671.3h0M1113.0 722.8h0M1196.9 717.5h0M1207.5 727.8h0M1221.4 729.1h0M722.2 731.5h0M724.5 734.5h0M732.5 739.5h0M735.9 744.4h0M736.8 744.2h0M741.6 749.6h0M745.3 753.6h0M747.3 755.5h0M754.3 762.6h0M759.3 766.9h0M762.5 770.6h0M765.1 773.0h0M769.3 772.7h0M775.7 774.3h0M779.8 772.8h0M782.2 772.9h0M784.8 775.3h0M787.0 778.3h0M789.0 777.0h0M793.3 777.3h0M795.7 780.6h0M799.5 787.0h0M804.1 789.3h0M805.5 789.6h0M807.1 790.9h0M812.4 793.2h0M812.4 795.7h0M813.3 795.9h0M815.7 799.4h0M817.0 801.3h0M816.6 803.8h0M824.2 804.5h0M828.1 809.4h0M829.0 810.1h0M834.4 812.0h0M834.7 813.1h0M844.8 817.1h0M849.6 822.5h0M852.1 825.6h0M867.0 834.5h0M877.3 838.8h0M880.4 842.2h0M883.0 842.4h0M887.6 847.6h0M890.5 847.3h0M893.2 849.4h0M894.2 850.8h0M902.8 862.0h0M905.8 865.8h0M906.7 866.7h0M910.6 873.9h0M912.2 874.2h0M924.1 877.4h0M929.5 879.2h0M931.5 882.3h0M946.6 885.7h0M947.9 887.6h0M949.9 888.0h0M952.0 888.1h0M953.3 889.9h0M956.8 892.2h0M960.7 896.0h0M963.6 899.0h0M965.2 902.3h0M966.1 903.4h0M1024.5 951.1h0M1028.8 953.0h0M1030.8 955.2h0M1031.8 954.9h0M1033.5 955.7h0M1037.9 955.9h0M1041.2 956.0h0M1063.2 963.7h0M1064.5 963.8h0M1067.1 966.9h0M1082.2 966.6h0M1082.5 967.3h0M1084.2 971.4h0M1086.8 975.3h0M1089.6 979.1h0M1096.2 983.7h0M1097.2 983.2h0M1099.4 983.7h0M743.8 749.1h0M799.4 752.9h0M800.7 763.1h0M819.1 777.4h0M826.7 770.8h0M843.5 773.8h0M861.6 761.9h0M887.6 758.0h0M872.1 773.8h0M875.9 781.5h0M809.6 791.2h0M793.1 778.4h0M944.2 778.7h0M1027.6 767.5h0M1023.8 777.9h0M1023.8 782.8h0M1036.5 790.4h0M1067.6 810.1h0M1058.4 820.2h0M917.2 832.0h0M894.5 843.4h0M904.5 854.2h0M1041.6 890.1h0M1088.3 964.0h0M1097.7 961.5h0M1092.1 971.7h0M1207.5 730.0h0M1221.4 730.8h0M1255.5 732.5h0M1259.3 733.8h0M1268.4 734.5h0M1269.9 736.3h0M1290.4 737.6h0M1304.8 738.8h0M1313.6 740.1h0M1342.6 741.4h0M1343.9 742.6h0M1351.5 743.9h0M1355.3 745.2h0M1357.8 746.4h0M1363.4 747.7h0M1125.4 752.7h0M1129.2 751.5h0M1135.0 753.0h0M1294.1 753.0h0M1331.8 762.1h0M1322.7 769.7h0M1132.4 768.4h0M1107.7 776.2h0M1194.3 776.2h0M1226.9 778.8h0M1260.5 773.7h0M1277.5 773.7h0M1272.2 778.8h0M1184.2 785.1h0M1182.2 788.1h0M1191.8 786.6h0M1202.4 789.4h0M1296.7 790.6h0M1366.7 789.4h0M1381.1 790.6h0M1386.1 789.9h0M1124.6 802.3h0M1184.2 804.8h0M1197.1 810.1h0M1323.7 798.7h0M1325.5 802.5h0M1326.7 806.3h0M1107.7 828.0h0M1183.0 837.1h0M1217.1 835.9h0M1171.1 846.2h0M1185.5 866.9h0M1193.3 864.4h0M1291.6 830.8h0M1359.1 832.1h0M1357.8 836.1h0M1267.1 852.5h0M1289.1 850.0h0M1340.9 847.5h0M1373.2 860.4h0M1101.4 878.6h0M1101.4 888.7h0M1097.6 961.2h0M1092.0 971.8h0M1203.7 961.2h0M1164.8 978.4h0M1176.4 978.4h0M1213.0 980.9h0M1225.7 970.0h0M1224.4 978.4h0M1207.5 988.5h0M1166.0 989.7h0M1254.0 969.0h0M1303.2 958.6h0M1381.1 956.1h0M1384.8 967.7h0M1263.1 1002.9h0M1282.5 1017.0h0M1292.9 1018.3h0M1200.9 1019.5h0M1322.7 993.8h0M1325.5 996.5h0M1330.5 992.5h0M1335.8 995.0h0M1339.6 1002.9h0M1181.5 1040.3h0M1177.7 1045.3h0M1203.7 1049.3h0M1206.2 1053.1h0M1265.8 1059.7h0M1312.3 1054.4h0M1375.7 1045.3h0M1375.7 1051.9h0M1091.1 981.2h0M1092.9 981.8h0M1095.9 981.9h0M1103.5 985.4h0M1106.0 986.2h0M1106.4 986.9h0M1108.2 988.3h0M1110.7 991.3h0M1111.5 993.3h0M1112.3 996.3h0M1114.3 998.5h0M1116.9 1004.2h0M1120.2 1007.9h0M1127.9 1016.6h0M1132.7 1020.4h0M1134.0 1020.5h0M1137.4 1020.8h0M1139.5 1024.4h0M1141.5 1025.1h0M1143.3 1026.0h0M1146.0 1029.9h0M1150.1 1032.3h0M1151.3 1034.1h0M1104.8 984.7h0M1110.7 987.7h0M1165.0 1044.8h0M1166.8 1045.8h0M1171.2 1051.5h0M1173.3 1052.8h0M1178.7 1055.0h0M1199.1 1058.9h0M1201.9 1061.3h0M1210.8 1063.5h0M1212.4 1064.4h0M1213.7 1065.6h0M1214.8 1067.7h0M1218.1 1071.9h0M1219.8 1074.2h0M1219.3 1074.9h0M1230.1 1082.4h0M1236.8 1085.9h0M1238.6 1083.5h0M1235.2 1084.5h0M1251.4 1088.4h0M1257.0 1090.0h0M1266.0 1092.7h0M1266.9 1093.5h0M1269.7 1094.3h0M1273.5 1098.8h0M1275.7 1101.2h0M1277.5 1101.7h0M1278.7 1105.3h0M1289.2 1110.4h0M1291.3 1110.7h0M1292.3 1110.6h0M1294.4 1112.7h0M1303.5 1116.4h0M1306.3 1119.1h0M1311.8 1121.7h0M1311.6 1123.3h0M1317.3 1129.9h0M1319.4 1131.1h0M1328.3 1134.1h0M1331.7 1135.7h0M1332.5 1136.3h0M1336.1 1137.0h0M1335.8 1138.6h0M1338.6 1137.9h0M1341.2 1140.4h0M1324.1 1129.9h0M1317.2 1127.9h0M1357.7 1143.0h0M1365.8 1150.1h0M1369.3 1150.2h0M1372.0 1153.0h0M1384.1 1156.2h0M1271.8 1078.0h0M1273.7 1079.5h0M1360.3 1088.4h0M1326.7 1123.6h0M1335.6 1124.6h0M1370.6 1122.0h0" stroke="#96a82b" stroke-width="5" stroke-linecap="round" fill="none"/>
<path d="M164.0 19.9L202.5 105.9L237.2 144.5L253.0 160.4L268.8 174.2" stroke="#96a82b" stroke-width="5.3" stroke-linecap="round" stroke-linejoin="round" fill="none"/>
<path d="M268.8 174.2L273.8 188.0L278.7 199.9L286.6 215.7L296.5 227.6L310.4 269.2L318.3 280.0" stroke="#96a82b" stroke-width="5.0" stroke-linecap="round" stroke-linejoin="round" fill="none"/>
<path d="M202.5 33.7L236.2 102.0" stroke="#96a82b" stroke-width="4.2" stroke-linecap="round" stroke-linejoin="round" fill="none"/>
<path d="M164.0 25.8L202.5 25.8" stroke="#96a82b" stroke-width="5" stroke-linecap="round" stroke-linejoin="round" fill="none"/>
<path d="M205.9 20.7L234.2 20.7" stroke="#96a82b" stroke-width="8.5" stroke-linecap="round" stroke-linejoin="round" fill="none"/>
<path d="M237.2 141.0L269.8 141.0" stroke="#96a82b" stroke-width="4.5" stroke-linecap="round" stroke-linejoin="round" fill="none"/>
<path d="M237.2 144.7L269.8 144.7" stroke="#96a82b" stroke-width="4.5" stroke-linecap="round" stroke-linejoin="round" fill="none"/>
<path d="M309.4 178.2L318.3 178.2" stroke="#96a82b" stroke-width="4.8" stroke-linecap="round" stroke-linejoin="round" fill="none"/>
<path d="M366.3 178.2L389.5 178.2" stroke="#96a82b" stroke-width="4.8" stroke-linecap="round" stroke-linejoin="round" fill="none"/>
<path d="M439.9 178.2L462.7 178.2" stroke="#96a82b" stroke-width="4.8" stroke-linecap="round" stroke-linejoin="round" fill="none"/>
<path d="M321.2 195.0L330.1 196.9L334.1 195.0L342.0 197.3" stroke="#96a82b" stroke-width="4.8" stroke-linecap="round" stroke-linejoin="round" fill="none"/>
<path d="M364.8 195.0L389.5 195.0" stroke="#96a82b" stroke-width="4.8" stroke-linecap="round" stroke-linejoin="round" fill="none"/>
<path d="M417.2 195.0L433.0 195.0" stroke="#96a82b" stroke-width="4.8" stroke-linecap="round" stroke-linejoin="round" fill="none"/>
<path d="M422.1 196.9L427.1 196.9" stroke="#96a82b" stroke-width="6" stroke-linecap="round" stroke-linejoin="round" fill="none"/>
<path d="M438.9 195.0L462.7 195.0" stroke="#96a82b" stroke-width="4.8" stroke-linecap="round" stroke-linejoin="round" fill="none"/>
<path d="M321.2 223.3L335.1 223.3" stroke="#96a82b" stroke-width="4.8" stroke-linecap="round" stroke-linejoin="round" fill="none"/>
<path d="M364.8 223.3L389.5 223.3" stroke="#96a82b" stroke-width="4.8" stroke-linecap="round" stroke-linejoin="round" fill="none"/>
<path d="M444.9 223.3L462.7 223.3" stroke="#96a82b" stroke-width="4.8" stroke-linecap="round" stroke-linejoin="round" fill="none"/>
<path d="M237.6 19.1L270.8 19.1" stroke="#96a82b" stroke-width="3.4" stroke-linecap="round" stroke-linejoin="round" fill="none"/>
<path d="M272.1 21.1L281.0 21.1" stroke="#96a82b" stroke-width="3.4" stroke-linecap="round" stroke-linejoin="round" fill="none"/>
<path d="M283.5 21.1L288.6 21.1" stroke="#96a82b" stroke-width="3.4" stroke-linecap="round" stroke-linejoin="round" fill="none"/>
<path d="M291.2 21.1L296.3 21.1" stroke="#96a82b" stroke-width="3.4" stroke-linecap="round" stroke-linejoin="round" fill="none"/>
<path d="M299.5 21.1L307.8 21.1" stroke="#96a82b" stroke-width="3.4" stroke-linecap="round" stroke-linejoin="round" fill="none"/>
<path d="M309.0 21.1L316.7 21.1" stroke="#96a82b" stroke-width="3.4" stroke-linecap="round" stroke-linejoin="round" fill="none"/>
<path d="M268.2 24.7L282.3 24.7" stroke="#96a82b" stroke-width="3.4" stroke-linecap="round" stroke-linejoin="round" fill="none"/>
<path d="M272.1 26.9L281.0 26.9" stroke="#96a82b" stroke-width="3.4" stroke-linecap="round" stroke-linejoin="round" fill="none"/>
<path d="M235.7 32.4L268.9 32.4" stroke="#96a82b" stroke-width="5.2" stroke-linecap="round" stroke-linejoin="round" fill="none"/>
<path d="M295.6 33.7L313.5 33.0" stroke="#96a82b" stroke-width="5" stroke-linecap="round" stroke-linejoin="round" fill="none"/>
<path d="M332.6 20.9L336.4 20.9" stroke="#96a82b" stroke-width="4.8" stroke-linecap="round" stroke-linejoin="round" fill="none"/>
<path d="M339.6 20.9L346.0 20.9" stroke="#96a82b" stroke-width="4.8" stroke-linecap="round" stroke-linejoin="round" fill="none"/>
<path d="M355.6 21.6L399.5 21.6" stroke="#96a82b" stroke-width="4.2" stroke-linecap="round" stroke-linejoin="round" fill="none"/>
<path d="M367.0 24.9L394.4 24.9" stroke="#96a82b" stroke-width="3.3" stroke-linecap="round" stroke-linejoin="round" fill="none"/>
<path d="M344.1 32.4L355.6 32.4" stroke="#96a82b" stroke-width="5" stroke-linecap="round" stroke-linejoin="round" fill="none"/>
<path d="M403.8 24.3L463.1 24.3" stroke="#96a82b" stroke-width="5" stroke-linecap="round" stroke-linejoin="round" fill="none"/>
<path d="M415.3 19.6L422.9 19.6" stroke="#96a82b" stroke-width="3.4" stroke-linecap="round" stroke-linejoin="round" fill="none"/>
<path d="M438.2 19.6L444.0 19.6" stroke="#96a82b" stroke-width="3.4" stroke-linecap="round" stroke-linejoin="round" fill="none"/>
<path d="M447.8 19.6L463.1 19.6" stroke="#96a82b" stroke-width="3.4" stroke-linecap="round" stroke-linejoin="round" fill="none"/>
<path d="M474.6 20.5L499.4 20.5" stroke="#96a82b" stroke-width="3.6" stroke-linecap="round" stroke-linejoin="round" fill="none"/>
<path d="M522.4 21.5L553.0 21.5" stroke="#96a82b" stroke-width="3.8" stroke-linecap="round" stroke-linejoin="round" fill="none"/>
<path d="M566.3 25.3L602.7 25.3" stroke="#96a82b" stroke-width="5.5" stroke-linecap="round" stroke-linejoin="round" fill="none"/>
<path d="M566.3 21.5L575.9 21.5" stroke="#96a82b" stroke-width="4" stroke-linecap="round" stroke-linejoin="round" fill="none"/>
<path d="M743.0 20.5L757.4 20.5" stroke="#96a82b" stroke-width="4.5" stroke-linecap="round" stroke-linejoin="round" fill="none"/>
<path d="M743.0 26.3L757.4 26.3" stroke="#96a82b" stroke-width="5" stroke-linecap="round" stroke-linejoin="round" fill="none"/>
<path d="M761.2 34.3L770.7 32.9L781.3 34.3" stroke="#96a82b" stroke-width="5" stroke-linecap="round" stroke-linejoin="round" fill="none"/>
<path d="M772.7 20.5L822.4 20.5" stroke="#96a82b" stroke-width="3.4" stroke-linecap="round" stroke-linejoin="round" fill="none"/>
<path d="M772.7 25.3L780.3 27.2" stroke="#96a82b" stroke-width="4.5" stroke-linecap="round" stroke-linejoin="round" fill="none"/>
<path d="M784.1 25.3L789.9 27.2" stroke="#96a82b" stroke-width="4.5" stroke-linecap="round" stroke-linejoin="round" fill="none"/>
<path d="M793.7 25.3L799.4 27.2" stroke="#96a82b" stroke-width="4.5" stroke-linecap="round" stroke-linejoin="round" fill="none"/>
<path d="M803.3 25.3L807.1 27.2" stroke="#96a82b" stroke-width="4.5" stroke-linecap="round" stroke-linejoin="round" fill="none"/>
<path d="M810.9 25.3L822.4 27.2" stroke="#96a82b" stroke-width="4.5" stroke-linecap="round" stroke-linejoin="round" fill="none"/>
<path d="M822.4 19.6L866.3 19.6" stroke="#96a82b" stroke-width="3.4" stroke-linecap="round" stroke-linejoin="round" fill="none"/>
<path d="M822.4 26.3L866.3 26.3" stroke="#96a82b" stroke-width="4.8" stroke-linecap="round" stroke-linejoin="round" fill="none"/>
<path d="M866.3 19.6L939.0 19.6" stroke="#96a82b" stroke-width="3.4" stroke-linecap="round" stroke-linejoin="round" fill="none"/>
<path d="M872.1 23.4L935.2 23.4" stroke="#96a82b" stroke-width="3.6" stroke-linecap="round" stroke-linejoin="round" fill="none"/>
<path d="M866.3 27.2L937.1 27.2" stroke="#96a82b" stroke-width="4.8" stroke-linecap="round" stroke-linejoin="round" fill="none"/>
<path d="M946.7 20.5L1000.0 20.5" stroke="#96a82b" stroke-width="3.2" stroke-linecap="round" stroke-linejoin="round" fill="none"/>
<path d="M954.3 26.3L1000.0 26.3" stroke="#96a82b" stroke-width="7" stroke-linecap="round" stroke-linejoin="round" fill="none"/>
<path d="M1000.0 24.9L1011.5 24.9" stroke="#96a82b" stroke-width="7" stroke-linecap="round" stroke-linejoin="round" fill="none"/>
<path d="M1011.5 20.5L1024.9 20.5" stroke="#96a82b" stroke-width="3.4" stroke-linecap="round" stroke-linejoin="round" fill="none"/>
<path d="M1034.4 19.6L1038.2 19.6" stroke="#96a82b" stroke-width="4.8" stroke-linecap="round" stroke-linejoin="round" fill="none"/>
<path d="M1055.4 18.6L1066.9 19.6" stroke="#96a82b" stroke-width="4.8" stroke-linecap="round" stroke-linejoin="round" fill="none"/>
<path d="M1011.5 26.3L1057.4 26.3" stroke="#96a82b" stroke-width="5.2" stroke-linecap="round" stroke-linejoin="round" fill="none"/>
<path d="M1080.3 20.5L1107.1 20.5" stroke="#96a82b" stroke-width="3.6" stroke-linecap="round" stroke-linejoin="round" fill="none"/>
<path d="M1112.8 20.5L1137.7 19.6" stroke="#96a82b" stroke-width="3.6" stroke-linecap="round" stroke-linejoin="round" fill="none"/>
<path d="M1137.7 20.5L1198.9 20.5" stroke="#96a82b" stroke-width="5.2" stroke-linecap="round" stroke-linejoin="round" fill="none"/>
<path d="M1084.1 26.3L1099.4 27.2" stroke="#96a82b" stroke-width="4.8" stroke-linecap="round" stroke-linejoin="round" fill="none"/>
<path d="M1154.9 26.3L1198.9 26.3" stroke="#96a82b" stroke-width="5.2" stroke-linecap="round" stroke-linejoin="round" fill="none"/>
<path d="M1216.1 20.5L1223.7 20.5" stroke="#96a82b" stroke-width="4.8" stroke-linecap="round" stroke-linejoin="round" fill="none"/>
<path d="M1235.2 20.5L1240.9 20.5" stroke="#96a82b" stroke-width="4.8" stroke-linecap="round" stroke-linejoin="round" fill="none"/>
<path d="M1223.7 27.2L1258.1 27.2" stroke="#96a82b" stroke-width="5" stroke-linecap="round" stroke-linejoin="round" fill="none"/>
<path d="M1267.7 24.3L1275.3 29.1" stroke="#96a82b" stroke-width="5" stroke-linecap="round" stroke-linejoin="round" fill="none"/>
<path d="M1216.6 21.6L1222.9 22.2" stroke="#96a82b" stroke-width="4.8" stroke-linecap="round" stroke-linejoin="round" fill="none"/>
<path d="M1235.7 22.2L1240.8 22.2" stroke="#96a82b" stroke-width="4.8" stroke-linecap="round" stroke-linejoin="round" fill="none"/>
<path d="M1222.9 28.6L1257.4 28.6" stroke="#96a82b" stroke-width="5" stroke-linecap="round" stroke-linejoin="round" fill="none"/>
<path d="M1268.8 28.6L1275.2 28.6" stroke="#96a82b" stroke-width="5" stroke-linecap="round" stroke-linejoin="round" fill="none"/>
<path d="M1284.1 23.5L1294.3 21.6" stroke="#96a82b" stroke-width="5" stroke-linecap="round" stroke-linejoin="round" fill="none"/>
<path d="M1296.9 22.2L1370.8 22.2" stroke="#96a82b" stroke-width="5" stroke-linecap="round" stroke-linejoin="round" fill="none"/>
<path d="M1281.6 28.6L1294.3 27.9" stroke="#96a82b" stroke-width="5.5" stroke-linecap="round" stroke-linejoin="round" fill="none"/>
<path d="M480.2 144.0L485.3 144.0" stroke="#96a82b" stroke-width="6" stroke-linecap="round" stroke-linejoin="round" fill="none"/>
<path d="M742.8 177.9L746.6 177.9" stroke="#96a82b" stroke-width="4.8" stroke-linecap="round" stroke-linejoin="round" fill="none"/>
<path d="M805.2 177.9L816.7 177.9" stroke="#96a82b" stroke-width="4.8" stroke-linecap="round" stroke-linejoin="round" fill="none"/>
<path d="M830.7 177.9L843.5 177.9" stroke="#96a82b" stroke-width="4.8" stroke-linecap="round" stroke-linejoin="round" fill="none"/>
<path d="M848.6 177.9L858.8 177.9" stroke="#96a82b" stroke-width="4.8" stroke-linecap="round" stroke-linejoin="round" fill="none"/>
<path d="M476.4 185.8L480.7 185.3" stroke="#96a82b" stroke-width="7.5" stroke-linecap="round" stroke-linejoin="round" fill="none"/>
<path d="M486.6 194.5L494.2 194.5" stroke="#96a82b" stroke-width="4.8" stroke-linecap="round" stroke-linejoin="round" fill="none"/>
<path d="M503.1 194.5L519.7 194.5" stroke="#96a82b" stroke-width="4.8" stroke-linecap="round" stroke-linejoin="round" fill="none"/>
<path d="M580.9 194.5L589.8 194.5" stroke="#96a82b" stroke-width="4.8" stroke-linecap="round" stroke-linejoin="round" fill="none"/>
<path d="M744.1 194.5L759.4 194.5" stroke="#96a82b" stroke-width="4.8" stroke-linecap="round" stroke-linejoin="round" fill="none"/>
<path d="M802.7 194.5L821.8 194.5" stroke="#96a82b" stroke-width="5.2" stroke-linecap="round" stroke-linejoin="round" fill="none"/>
<path d="M826.9 194.5L844.8 194.5" stroke="#96a82b" stroke-width="4.8" stroke-linecap="round" stroke-linejoin="round" fill="none"/>
<path d="M848.6 194.5L866.4 194.5" stroke="#96a82b" stroke-width="4.8" stroke-linecap="round" stroke-linejoin="round" fill="none"/>
<path d="M523.5 198.6L541.4 198.6" stroke="#96a82b" stroke-width="5.5" stroke-linecap="round" stroke-linejoin="round" fill="none"/>
<path d="M858.8 198.6L870.0 198.6" stroke="#96a82b" stroke-width="6" stroke-linecap="round" stroke-linejoin="round" fill="none"/>
<path d="M861.3 211.3L866.4 211.3" stroke="#96a82b" stroke-width="5.5" stroke-linecap="round" stroke-linejoin="round" fill="none"/>
<path d="M486.6 223.0L494.2 223.0" stroke="#96a82b" stroke-width="4.8" stroke-linecap="round" stroke-linejoin="round" fill="none"/>
<path d="M503.1 223.0L519.7 223.0" stroke="#96a82b" stroke-width="4.8" stroke-linecap="round" stroke-linejoin="round" fill="none"/>
<path d="M580.9 223.0L589.8 223.0" stroke="#96a82b" stroke-width="4.8" stroke-linecap="round" stroke-linejoin="round" fill="none"/>
<path d="M744.1 223.0L759.4 223.0" stroke="#96a82b" stroke-width="4.8" stroke-linecap="round" stroke-linejoin="round" fill="none"/>
<path d="M802.7 223.0L820.5 223.0" stroke="#96a82b" stroke-width="4.8" stroke-linecap="round" stroke-linejoin="round" fill="none"/>
<path d="M830.7 223.0L843.5 223.0" stroke="#96a82b" stroke-width="4.8" stroke-linecap="round" stroke-linejoin="round" fill="none"/>
<path d="M848.6 223.0L858.8 223.0" stroke="#96a82b" stroke-width="4.8" stroke-linecap="round" stroke-linejoin="round" fill="none"/>
<path d="M594.4 230.7L600.5 230.7" stroke="#96a82b" stroke-width="4.8" stroke-linecap="round" stroke-linejoin="round" fill="none"/>
<path d="M816.7 287.8L825.6 287.8" stroke="#96a82b" stroke-width="4.8" stroke-linecap="round" stroke-linejoin="round" fill="none"/>
<path d="M523.5 299.5L541.4 299.5" stroke="#96a82b" stroke-width="5.8" stroke-linecap="round" stroke-linejoin="round" fill="none"/>
<path d="M830.7 379.6L858.8 379.6" stroke="#96a82b" stroke-width="5.2" stroke-linecap="round" stroke-linejoin="round" fill="none"/>
<path d="M938.8 141.5L938.8 144.5" stroke="#96a82b" stroke-width="6" stroke-linecap="round" stroke-linejoin="round" fill="none"/>
<path d="M1100.7 144.0L1104.0 144.0" stroke="#96a82b" stroke-width="5.2" stroke-linecap="round" stroke-linejoin="round" fill="none"/>
<path d="M1018.4 177.9L1023.0 177.9" stroke="#96a82b" stroke-width="5.2" stroke-linecap="round" stroke-linejoin="round" fill="none"/>
<path d="M1049.7 177.9L1053.6 177.9" stroke="#96a82b" stroke-width="4.8" stroke-linecap="round" stroke-linejoin="round" fill="none"/>
<path d="M1156.8 177.9L1170.8 177.9" stroke="#96a82b" stroke-width="5.5" stroke-linecap="round" stroke-linejoin="round" fill="none"/>
<path d="M1182.3 177.9L1218.0 177.9" stroke="#96a82b" stroke-width="5.5" stroke-linecap="round" stroke-linejoin="round" fill="none"/>
<path d="M884.0 194.5L898.0 194.5" stroke="#96a82b" stroke-width="4.8" stroke-linecap="round" stroke-linejoin="round" fill="none"/>
<path d="M907.0 194.5L914.6 194.5" stroke="#96a82b" stroke-width="4.8" stroke-linecap="round" stroke-linejoin="round" fill="none"/>
<path d="M1018.4 194.5L1023.0 194.5" stroke="#96a82b" stroke-width="5.2" stroke-linecap="round" stroke-linejoin="round" fill="none"/>
<path d="M1059.9 194.5L1081.6 194.5" stroke="#96a82b" stroke-width="5.8" stroke-linecap="round" stroke-linejoin="round" fill="none"/>
<path d="M1124.9 194.5L1130.0 194.5" stroke="#96a82b" stroke-width="4.8" stroke-linecap="round" stroke-linejoin="round" fill="none"/>
<path d="M1165.7 194.5L1198.9 194.5" stroke="#96a82b" stroke-width="5.2" stroke-linecap="round" stroke-linejoin="round" fill="none"/>
<path d="M1216.7 194.5L1224.4 194.5" stroke="#96a82b" stroke-width="4.8" stroke-linecap="round" stroke-linejoin="round" fill="none"/>
<path d="M1237.1 194.5L1240.9 194.5" stroke="#96a82b" stroke-width="4.8" stroke-linecap="round" stroke-linejoin="round" fill="none"/>
<path d="M1265.2 194.5L1270.0 194.5" stroke="#96a82b" stroke-width="4.8" stroke-linecap="round" stroke-linejoin="round" fill="none"/>
<path d="M1061.2 198.6L1067.6 198.6" stroke="#96a82b" stroke-width="5.2" stroke-linecap="round" stroke-linejoin="round" fill="none"/>
<path d="M917.2 207.0L924.8 207.0" stroke="#96a82b" stroke-width="5.5" stroke-linecap="round" stroke-linejoin="round" fill="none"/>
<path d="M946.0 207.0L950.3 207.0" stroke="#96a82b" stroke-width="6" stroke-linecap="round" stroke-linejoin="round" fill="none"/>
<path d="M1059.9 206.5L1066.3 206.5" stroke="#96a82b" stroke-width="5.2" stroke-linecap="round" stroke-linejoin="round" fill="none"/>
<path d="M870.0 223.0L877.6 223.0" stroke="#96a82b" stroke-width="4.8" stroke-linecap="round" stroke-linejoin="round" fill="none"/>
<path d="M907.0 223.0L914.6 223.0" stroke="#96a82b" stroke-width="4.8" stroke-linecap="round" stroke-linejoin="round" fill="none"/>
<path d="M1019.1 223.0L1023.0 223.0" stroke="#96a82b" stroke-width="5.2" stroke-linecap="round" stroke-linejoin="round" fill="none"/>
<path d="M1067.6 223.0L1080.3 223.0" stroke="#96a82b" stroke-width="5.8" stroke-linecap="round" stroke-linejoin="round" fill="none"/>
<path d="M1124.9 223.0L1130.0 223.0" stroke="#96a82b" stroke-width="4.8" stroke-linecap="round" stroke-linejoin="round" fill="none"/>
<path d="M1165.7 223.0L1173.4 223.0" stroke="#96a82b" stroke-width="4.8" stroke-linecap="round" stroke-linejoin="round" fill="none"/>
<path d="M1183.1 223.0L1196.3 223.0" stroke="#96a82b" stroke-width="4.8" stroke-linecap="round" stroke-linejoin="round" fill="none"/>
<path d="M1217.2 223.0L1224.4 223.0" stroke="#96a82b" stroke-width="4.8" stroke-linecap="round" stroke-linejoin="round" fill="none"/>
<path d="M1237.1 223.0L1242.2 223.0" stroke="#96a82b" stroke-width="4.8" stroke-linecap="round" stroke-linejoin="round" fill="none"/>
<path d="M1265.2 223.0L1270.0 223.0" stroke="#96a82b" stroke-width="4.8" stroke-linecap="round" stroke-linejoin="round" fill="none"/>
<path d="M946.0 230.7L950.3 230.7" stroke="#96a82b" stroke-width="6" stroke-linecap="round" stroke-linejoin="round" fill="none"/>
<path d="M1013.3 230.7L1017.9 230.7" stroke="#96a82b" stroke-width="5.5" stroke-linecap="round" stroke-linejoin="round" fill="none"/>
<path d="M1023.7 230.7L1028.6 230.7" stroke="#96a82b" stroke-width="5.5" stroke-linecap="round" stroke-linejoin="round" fill="none"/>
<path d="M1133.4 278.9L1139.7 278.9" stroke="#96a82b" stroke-width="6" stroke-linecap="round" stroke-linejoin="round" fill="none"/>
<path d="M1207.8 316.1L1211.1 316.1" stroke="#96a82b" stroke-width="4.8" stroke-linecap="round" stroke-linejoin="round" fill="none"/>
<path d="M915.4 325.5L917.9 325.5" stroke="#96a82b" stroke-width="4.8" stroke-linecap="round" stroke-linejoin="round" fill="none"/>
<path d="M877.6 383.7L884.0 383.7" stroke="#96a82b" stroke-width="4.8" stroke-linecap="round" stroke-linejoin="round" fill="none"/>
<path d="M1240.9 352.3L1251.1 352.3" stroke="#96a82b" stroke-width="7.5" stroke-linecap="round" stroke-linejoin="round" fill="none"/>
<path d="M1321.1 178.0L1331.3 178.0" stroke="#96a82b" stroke-width="4.8" stroke-linecap="round" stroke-linejoin="round" fill="none"/>
<path d="M1339.6 184.1L1339.6 187.1" stroke="#96a82b" stroke-width="6.5" stroke-linecap="round" stroke-linejoin="round" fill="none"/>
<path d="M1290.8 194.7L1295.9 194.7" stroke="#96a82b" stroke-width="5.5" stroke-linecap="round" stroke-linejoin="round" fill="none"/>
<path d="M308.9 270.0L315.3 280.2L322.9 287.8L333.1 305.7L343.3 324.8L359.9 349.0L362.5 359.2L373.9 372.0L388.0 389.8L402.0 412.8L412.2 428.1L423.6 448.5L446.6 466.3L463.2 486.7L473.4 507.1L483.6 518.6L489.9 528.8L504.0 536.4L520.5 556.8L540.9 577.2L547.3 588.7L561.3 601.4L565.1 614.2" stroke="#96a82b" stroke-width="5.1" stroke-linecap="round" stroke-linejoin="round" fill="none"/>
<path d="M373.9 369.4L390.5 369.4" stroke="#96a82b" stroke-width="5" stroke-linecap="round" stroke-linejoin="round" fill="none"/>
<path d="M422.4 324.3L438.9 324.3" stroke="#96a82b" stroke-width="5.2" stroke-linecap="round" stroke-linejoin="round" fill="none"/>
<path d="M524.3 299.8L540.9 299.8" stroke="#96a82b" stroke-width="5.6" stroke-linecap="round" stroke-linejoin="round" fill="none"/>
<path d="M493.8 349.0L495.0 354.1" stroke="#96a82b" stroke-width="5.5" stroke-linecap="round" stroke-linejoin="round" fill="none"/>
<path d="M405.3 380.1L407.8 380.1" stroke="#96a82b" stroke-width="5" stroke-linecap="round" stroke-linejoin="round" fill="none"/>
<path d="M461.9 398.0L474.6 398.0" stroke="#96a82b" stroke-width="5.6" stroke-linecap="round" stroke-linejoin="round" fill="none"/>
<path d="M493.0 422.5L496.8 422.5" stroke="#96a82b" stroke-width="5.2" stroke-linecap="round" stroke-linejoin="round" fill="none"/>
<path d="M565.1 614.1L567.6 616.6L577.8 627.4L584.9 632.5L589.3 640.8L595.7 649.7L603.3 657.4L607.8 665.0L611.6 670.1" stroke="#96a82b" stroke-width="5.1" stroke-linecap="round" stroke-linejoin="round" fill="none"/>
<path d="M679.8 666.3L684.3 663.1" stroke="#96a82b" stroke-width="5.5" stroke-linecap="round" stroke-linejoin="round" fill="none"/>
<path d="M653.7 672.7L679.2 698.8" stroke="#96a82b" stroke-width="4.9" stroke-linecap="round" stroke-linejoin="round" fill="none"/>
<path d="M685.6 700.1L707.9 721.1L719.3 730.0" stroke="#96a82b" stroke-width="4.9" stroke-linecap="round" stroke-linejoin="round" fill="none"/>
<path d="M883.0 394.4L885.6 394.4" stroke="#96a82b" stroke-width="4.8" stroke-linecap="round" stroke-linejoin="round" fill="none"/>
<path d="M879.7 385.0L883.0 385.0" stroke="#96a82b" stroke-width="4.8" stroke-linecap="round" stroke-linejoin="round" fill="none"/>
<path d="M951.1 388.1L954.4 388.1" stroke="#96a82b" stroke-width="5.5" stroke-linecap="round" stroke-linejoin="round" fill="none"/>
<path d="M739.5 403.4L742.8 403.4" stroke="#96a82b" stroke-width="5.2" stroke-linecap="round" stroke-linejoin="round" fill="none"/>
<path d="M781.1 403.4L783.1 403.4" stroke="#96a82b" stroke-width="5.2" stroke-linecap="round" stroke-linejoin="round" fill="none"/>
<path d="M791.3 412.3L793.6 412.3" stroke="#96a82b" stroke-width="5.2" stroke-linecap="round" stroke-linejoin="round" fill="none"/>
<path d="M812.2 427.8L816.8 427.8" stroke="#96a82b" stroke-width="5.2" stroke-linecap="round" stroke-linejoin="round" fill="none"/>
<path d="M1090.6 427.8L1093.1 427.8" stroke="#96a82b" stroke-width="5.2" stroke-linecap="round" stroke-linejoin="round" fill="none"/>
<path d="M888.1 447.2L890.7 447.2" stroke="#96a82b" stroke-width="5.2" stroke-linecap="round" stroke-linejoin="round" fill="none"/>
<path d="M1094.6 458.9L1096.4 458.9" stroke="#96a82b" stroke-width="5.2" stroke-linecap="round" stroke-linejoin="round" fill="none"/>
<path d="M1028.9 478.8L1031.9 476.8" stroke="#96a82b" stroke-width="5.2" stroke-linecap="round" stroke-linejoin="round" fill="none"/>
<path d="M1011.5 557.6L1014.1 557.6" stroke="#96a82b" stroke-width="5.2" stroke-linecap="round" stroke-linejoin="round" fill="none"/>
<path d="M862.4 580.8L864.9 580.8" stroke="#96a82b" stroke-width="5.2" stroke-linecap="round" stroke-linejoin="round" fill="none"/>
<path d="M934.0 594.8L937.1 594.8" stroke="#96a82b" stroke-width="5.2" stroke-linecap="round" stroke-linejoin="round" fill="none"/>
<path d="M948.6 606.3L948.6 609.9" stroke="#96a82b" stroke-width="5.2" stroke-linecap="round" stroke-linejoin="round" fill="none"/>
<path d="M946.8 649.4L949.3 649.4" stroke="#96a82b" stroke-width="5.2" stroke-linecap="round" stroke-linejoin="round" fill="none"/>
<path d="M1016.9 647.6L1016.9 651.4" stroke="#96a82b" stroke-width="6.5" stroke-linecap="round" stroke-linejoin="round" fill="none"/>
<path d="M719.1 659.8L722.4 658.3" stroke="#96a82b" stroke-width="5.2" stroke-linecap="round" stroke-linejoin="round" fill="none"/>
<path d="M744.6 673.8L750.2 676.4" stroke="#96a82b" stroke-width="5.2" stroke-linecap="round" stroke-linejoin="round" fill="none"/>
<path d="M807.8 680.2L810.1 680.2" stroke="#96a82b" stroke-width="5.2" stroke-linecap="round" stroke-linejoin="round" fill="none"/>
<path d="M828.7 682.5L832.6 685.8L837.7 689.1L842.8 691.7L847.9 694.0L853.0 696.0L858.1 698.6" stroke="#96a82b" stroke-width="4.8" stroke-linecap="round" stroke-linejoin="round" fill="none"/>
<path d="M912.9 702.4L915.4 702.4" stroke="#96a82b" stroke-width="5.2" stroke-linecap="round" stroke-linejoin="round" fill="none"/>
<path d="M939.6 703.7L942.7 703.7" stroke="#96a82b" stroke-width="5.2" stroke-linecap="round" stroke-linejoin="round" fill="none"/>
<path d="M951.9 704.9L953.9 704.9" stroke="#96a82b" stroke-width="5.2" stroke-linecap="round" stroke-linejoin="round" fill="none"/>
<path d="M1285.8 391.3L1289.6 391.3" stroke="#96a82b" stroke-width="5.2" stroke-linecap="round" stroke-linejoin="round" fill="none"/>
<path d="M1301.7 412.0L1303.7 412.0" stroke="#96a82b" stroke-width="5.2" stroke-linecap="round" stroke-linejoin="round" fill="none"/>
<path d="M1173.4 438.1L1175.4 438.1" stroke="#96a82b" stroke-width="5.2" stroke-linecap="round" stroke-linejoin="round" fill="none"/>
<path d="M1178.4 480.8L1181.5 480.8" stroke="#96a82b" stroke-width="5.2" stroke-linecap="round" stroke-linejoin="round" fill="none"/>
<path d="M1139.3 535.3L1156.2 535.3" stroke="#96a82b" stroke-width="5.6" stroke-linecap="round" stroke-linejoin="round" fill="none"/>
<path d="M1139.8 560.6L1156.2 577.0" stroke="#96a82b" stroke-width="5.6" stroke-linecap="round" stroke-linejoin="round" fill="none"/>
<path d="M1315.6 539.1L1318.6 539.1" stroke="#96a82b" stroke-width="5.2" stroke-linecap="round" stroke-linejoin="round" fill="none"/>
<path d="M1323.7 539.1L1325.7 539.1" stroke="#96a82b" stroke-width="5.2" stroke-linecap="round" stroke-linejoin="round" fill="none"/>
<path d="M1346.4 533.6L1351.0 533.6" stroke="#96a82b" stroke-width="6" stroke-linecap="round" stroke-linejoin="round" fill="none"/>
<path d="M1250.9 578.0L1253.0 578.0" stroke="#96a82b" stroke-width="5.2" stroke-linecap="round" stroke-linejoin="round" fill="none"/>
<path d="M1209.3 642.7L1215.1 642.7" stroke="#96a82b" stroke-width="5.2" stroke-linecap="round" stroke-linejoin="round" fill="none"/>
<path d="M1292.1 640.2L1299.7 640.2" stroke="#96a82b" stroke-width="5.2" stroke-linecap="round" stroke-linejoin="round" fill="none"/>
<path d="M1305.5 640.2L1308.8 640.2" stroke="#96a82b" stroke-width="5.2" stroke-linecap="round" stroke-linejoin="round" fill="none"/>
<path d="M1157.7 724.8L1160.7 724.8" stroke="#96a82b" stroke-width="5.5" stroke-linecap="round" stroke-linejoin="round" fill="none"/>
<path d="M1194.8 726.6L1198.1 726.6" stroke="#96a82b" stroke-width="5.2" stroke-linecap="round" stroke-linejoin="round" fill="none"/>
<path d="M717.8 730.0L725.5 734.1L743.3 751.2L753.5 762.6L761.2 768.2L765.0 773.3L782.9 773.3L785.4 777.2L795.6 778.4L798.2 784.8L804.5 789.9L812.2 793.7L817.3 803.9" stroke="#96a82b" stroke-width="5.1" stroke-linecap="round" stroke-linejoin="round" fill="none"/>
<path d="M823.6 805.2L832.6 811.6L846.6 818.0L853.0 828.2L859.3 832.0" stroke="#96a82b" stroke-width="5.1" stroke-linecap="round" stroke-linejoin="round" fill="none"/>
<path d="M874.6 837.1L886.1 846.0L893.8 849.8L902.7 862.6L910.3 872.8L915.4 874.8" stroke="#96a82b" stroke-width="5.1" stroke-linecap="round" stroke-linejoin="round" fill="none"/>
<path d="M921.8 875.8L926.9 877.9L933.3 883.7" stroke="#96a82b" stroke-width="5" stroke-linecap="round" stroke-linejoin="round" fill="none"/>
<path d="M944.7 884.7L954.9 890.6L967.7 904.6" stroke="#96a82b" stroke-width="5.1" stroke-linecap="round" stroke-linejoin="round" fill="none"/>
<path d="M967.7 904.6L1012.3 949.2" stroke="#96a82b" stroke-width="4.8" stroke-linecap="round" stroke-linejoin="round" fill="none"/>
<path d="M1023.8 951.3L1031.4 954.3L1042.9 957.4" stroke="#96a82b" stroke-width="5" stroke-linecap="round" stroke-linejoin="round" fill="none"/>
<path d="M1050.5 958.2L1053.1 962.0" stroke="#96a82b" stroke-width="5" stroke-linecap="round" stroke-linejoin="round" fill="none"/>
<path d="M1059.5 963.3L1066.3 964.5L1066.3 967.1" stroke="#96a82b" stroke-width="5" stroke-linecap="round" stroke-linejoin="round" fill="none"/>
<path d="M1082.4 964.5L1085.0 970.9L1089.3 979.8" stroke="#96a82b" stroke-width="5.1" stroke-linecap="round" stroke-linejoin="round" fill="none"/>
<path d="M1095.2 982.4L1100.0 984.9" stroke="#96a82b" stroke-width="5.1" stroke-linecap="round" stroke-linejoin="round" fill="none"/>
<path d="M966.9 893.2L974.1 899.5" stroke="#96a82b" stroke-width="4.6" stroke-linecap="round" stroke-linejoin="round" fill="none"/>
<path d="M976.6 893.2L983.0 898.3" stroke="#96a82b" stroke-width="4.6" stroke-linecap="round" stroke-linejoin="round" fill="none"/>
<path d="M985.5 893.2L993.2 899.5" stroke="#96a82b" stroke-width="4.6" stroke-linecap="round" stroke-linejoin="round" fill="none"/>
<path d="M994.5 893.2L1002.1 899.5" stroke="#96a82b" stroke-width="4.6" stroke-linecap="round" stroke-linejoin="round" fill="none"/>
<path d="M1003.4 893.2L1011.0 900.8" stroke="#96a82b" stroke-width="4.6" stroke-linecap="round" stroke-linejoin="round" fill="none"/>
<path d="M970.2 904.1L975.3 904.1" stroke="#96a82b" stroke-width="4.6" stroke-linecap="round" stroke-linejoin="round" fill="none"/>
<path d="M993.2 904.1L1002.1 904.1" stroke="#96a82b" stroke-width="4.6" stroke-linecap="round" stroke-linejoin="round" fill="none"/>
<path d="M976.6 913.0L984.3 913.0" stroke="#96a82b" stroke-width="4.8" stroke-linecap="round" stroke-linejoin="round" fill="none"/>
<path d="M1002.1 913.0L1011.5 913.0" stroke="#96a82b" stroke-width="4.8" stroke-linecap="round" stroke-linejoin="round" fill="none"/>
<path d="M785.9 752.9L789.7 752.9" stroke="#96a82b" stroke-width="5" stroke-linecap="round" stroke-linejoin="round" fill="none"/>
<path d="M957.0 773.8L966.4 773.8" stroke="#96a82b" stroke-width="5.6" stroke-linecap="round" stroke-linejoin="round" fill="none"/>
<path d="M984.3 773.8L993.2 773.8" stroke="#96a82b" stroke-width="5.6" stroke-linecap="round" stroke-linejoin="round" fill="none"/>
<path d="M1055.1 765.9L1057.7 765.9" stroke="#96a82b" stroke-width="5.2" stroke-linecap="round" stroke-linejoin="round" fill="none"/>
<path d="M1053.9 790.4L1058.2 790.4" stroke="#96a82b" stroke-width="5.2" stroke-linecap="round" stroke-linejoin="round" fill="none"/>
<path d="M1031.4 820.2L1040.3 820.2" stroke="#96a82b" stroke-width="5.2" stroke-linecap="round" stroke-linejoin="round" fill="none"/>
<path d="M939.6 845.0L943.0 845.0" stroke="#96a82b" stroke-width="5.2" stroke-linecap="round" stroke-linejoin="round" fill="none"/>
<path d="M1014.1 887.6L1017.9 887.6" stroke="#96a82b" stroke-width="5.2" stroke-linecap="round" stroke-linejoin="round" fill="none"/>
<path d="M1236.5 731.3L1240.3 731.3" stroke="#96a82b" stroke-width="5.2" stroke-linecap="round" stroke-linejoin="round" fill="none"/>
<path d="M1139.8 773.5L1156.2 773.5" stroke="#96a82b" stroke-width="5.6" stroke-linecap="round" stroke-linejoin="round" fill="none"/>
<path d="M1257.3 789.4L1259.8 789.4" stroke="#96a82b" stroke-width="5.2" stroke-linecap="round" stroke-linejoin="round" fill="none"/>
<path d="M1305.3 789.4L1307.8 789.4" stroke="#96a82b" stroke-width="5.2" stroke-linecap="round" stroke-linejoin="round" fill="none"/>
<path d="M1332.5 783.8L1334.6 783.8" stroke="#96a82b" stroke-width="5.2" stroke-linecap="round" stroke-linejoin="round" fill="none"/>
<path d="M1156.4 825.5L1158.7 825.5" stroke="#96a82b" stroke-width="5.2" stroke-linecap="round" stroke-linejoin="round" fill="none"/>
<path d="M1194.1 828.0L1197.4 828.0" stroke="#96a82b" stroke-width="5.8" stroke-linecap="round" stroke-linejoin="round" fill="none"/>
<path d="M1210.8 834.3L1213.3 834.3" stroke="#96a82b" stroke-width="5.2" stroke-linecap="round" stroke-linejoin="round" fill="none"/>
<path d="M1213.3 855.1L1215.8 855.1" stroke="#96a82b" stroke-width="5.2" stroke-linecap="round" stroke-linejoin="round" fill="none"/>
<path d="M1311.8 830.8L1314.1 830.8" stroke="#96a82b" stroke-width="5.2" stroke-linecap="round" stroke-linejoin="round" fill="none"/>
<path d="M1305.3 868.2L1309.0 868.2" stroke="#96a82b" stroke-width="5.2" stroke-linecap="round" stroke-linejoin="round" fill="none"/>
<path d="M1120.3 891.7L1123.6 893.0" stroke="#96a82b" stroke-width="6" stroke-linecap="round" stroke-linejoin="round" fill="none"/>
<path d="M1207.5 978.4L1217.1 978.4" stroke="#96a82b" stroke-width="5.2" stroke-linecap="round" stroke-linejoin="round" fill="none"/>
<path d="M1278.2 992.5L1282.0 992.5" stroke="#96a82b" stroke-width="5.2" stroke-linecap="round" stroke-linejoin="round" fill="none"/>
<path d="M1278.2 1011.7L1282.0 1011.7" stroke="#96a82b" stroke-width="5.6" stroke-linecap="round" stroke-linejoin="round" fill="none"/>
<path d="M1337.1 987.2L1338.9 987.2" stroke="#96a82b" stroke-width="5.2" stroke-linecap="round" stroke-linejoin="round" fill="none"/>
<path d="M1345.7 987.2L1351.0 987.2" stroke="#96a82b" stroke-width="5.2" stroke-linecap="round" stroke-linejoin="round" fill="none"/>
<path d="M1330.0 1013.0L1332.0 1013.0" stroke="#96a82b" stroke-width="5.2" stroke-linecap="round" stroke-linejoin="round" fill="none"/>
<path d="M1230.2 1041.5L1232.7 1041.5" stroke="#96a82b" stroke-width="5.2" stroke-linecap="round" stroke-linejoin="round" fill="none"/>
<path d="M1090.0 979.8L1095.9 982.7L1104.8 985.7L1109.8 988.6L1112.7 997.5L1119.6 1008.4L1129.5 1018.3L1137.4 1021.2L1157.2 1040.0" stroke="#96a82b" stroke-width="5.1" stroke-linecap="round" stroke-linejoin="round" fill="none"/>
<path d="M1162.1 1041.0L1173.0 1053.8" stroke="#96a82b" stroke-width="5.1" stroke-linecap="round" stroke-linejoin="round" fill="none"/>
<path d="M1176.9 1051.9L1179.9 1054.8" stroke="#96a82b" stroke-width="5" stroke-linecap="round" stroke-linejoin="round" fill="none"/>
<path d="M1186.8 1056.8L1188.8 1058.4" stroke="#96a82b" stroke-width="5" stroke-linecap="round" stroke-linejoin="round" fill="none"/>
<path d="M1191.8 1056.4L1193.1 1058.4" stroke="#96a82b" stroke-width="5" stroke-linecap="round" stroke-linejoin="round" fill="none"/>
<path d="M1198.7 1059.8L1202.6 1061.8" stroke="#96a82b" stroke-width="5" stroke-linecap="round" stroke-linejoin="round" fill="none"/>
<path d="M1208.5 1062.7L1216.4 1068.7L1220.4 1076.6" stroke="#96a82b" stroke-width="5.1" stroke-linecap="round" stroke-linejoin="round" fill="none"/>
<path d="M1226.3 1078.2L1230.3 1084.5L1240.2 1086.8" stroke="#96a82b" stroke-width="5.1" stroke-linecap="round" stroke-linejoin="round" fill="none"/>
<path d="M1261.9 1092.0L1269.8 1095.3L1276.7 1101.3L1280.7 1107.2" stroke="#96a82b" stroke-width="5.1" stroke-linecap="round" stroke-linejoin="round" fill="none"/>
<path d="M1287.6 1109.2L1302.4 1115.7L1313.3 1124.0L1317.2 1130.3L1327.1 1132.9L1334.0 1136.8L1343.9 1141.4" stroke="#96a82b" stroke-width="5.1" stroke-linecap="round" stroke-linejoin="round" fill="none"/>
<path d="M1353.8 1142.8L1358.7 1143.4L1366.6 1149.7L1372.5 1152.6" stroke="#96a82b" stroke-width="5.1" stroke-linecap="round" stroke-linejoin="round" fill="none"/>
<path d="M1377.5 1152.0L1385.4 1158.2" stroke="#96a82b" stroke-width="5.1" stroke-linecap="round" stroke-linejoin="round" fill="none"/>
<path d="M1291.5 1088.4L1295.1 1088.4" stroke="#96a82b" stroke-width="5.2" stroke-linecap="round" stroke-linejoin="round" fill="none"/>
<circle cx="393.0" cy="206.8" r="3.4" fill="#96a82b"/>
<circle cx="357.8" cy="217.7" r="3.2" fill="#96a82b"/>
<circle cx="321.2" cy="178.2" r="5" fill="#aaa81a"/>
<circle cx="321.2" cy="195.0" r="5" fill="#7ea45a"/>
<circle cx="321.2" cy="223.3" r="5" fill="#a6a820"/>
<circle cx="366.3" cy="178.2" r="4" fill="#a2a828"/>
<circle cx="321.1" cy="19.6" r="4.5" fill="#aaa81a"/>
<circle cx="321.1" cy="24.1" r="4.5" fill="#7ea45a"/>
<circle cx="321.1" cy="28.2" r="5" fill="#aaa81a"/>
<circle cx="367.0" cy="26.0" r="4" fill="#7ea45a"/>
<circle cx="363.8" cy="33.0" r="3.2" fill="#96a82b"/>
<circle cx="547.2" cy="26.3" r="4.5" fill="#7ea45a"/>
<circle cx="751.2" cy="28.2" r="5" fill="#7ea45a"/>
<circle cx="823.3" cy="27.2" r="4" fill="#a0a828"/>
<circle cx="863.5" cy="26.3" r="4.5" fill="#7ea45a"/>
<circle cx="1091.8" cy="19.6" r="5" fill="#7ea45a"/>
<circle cx="1092.7" cy="26.3" r="4" fill="#a0a828"/>
<circle cx="492.4" cy="194.0" r="3" fill="#96a82b"/>
<circle cx="492.4" cy="222.5" r="3" fill="#96a82b"/>
<circle cx="492.2" cy="287.8" r="3.5" fill="#96a82b"/>
<circle cx="1115.3" cy="185.3" r="3.6" fill="#96a82b"/>
<circle cx="875.1" cy="193.7" r="3.5" fill="#96a82b"/>
<circle cx="878.9" cy="207.0" r="4" fill="#96a82b"/>
<circle cx="1028.1" cy="207.0" r="3" fill="#96a82b"/>
<circle cx="1090.8" cy="207.2" r="4.6" fill="#8aa644"/>
<circle cx="1331.3" cy="198.7" r="7" fill="#bfa816"/>
<circle cx="1386.4" cy="20.7" r="15.4" fill="#e52e00"/>
<circle cx="1386.3" cy="26.5" r="14.6" fill="#0d5060"/>
<circle cx="1386.4" cy="177.7" r="15.55" fill="#e52e00"/>
<circle cx="1386.4" cy="194.6" r="15.55" fill="#003c41"/>
<circle cx="1386.4" cy="223.5" r="15.55" fill="#e52e00"/>
<circle cx="1386.4" cy="28.9" r="1.6" fill="#a9b62a"/>
<circle cx="1386.3" cy="198.7" r="1.9" fill="#a9b62a"/>
<circle cx="1386.3" cy="287.7" r="1.0" fill="#96a82b"/>
<circle cx="1386.3" cy="324.3" r="1.0" fill="#96a82b"/>
<circle cx="1386.3" cy="369.8" r="1.0" fill="#96a82b"/>
<circle cx="1386.3" cy="379.9" r="1.0" fill="#96a82b"/>
<circle cx="1386.3" cy="387.5" r="1.0" fill="#96a82b"/>
<circle cx="1386.3" cy="391.3" r="1.0" fill="#96a82b"/>
<circle cx="1386.3" cy="422.6" r="1.0" fill="#96a82b"/>
<circle cx="1386.3" cy="442.4" r="1.0" fill="#96a82b"/>
<circle cx="1386.3" cy="450.2" r="1.0" fill="#96a82b"/>
<circle cx="1386.3" cy="526.0" r="1.0" fill="#96a82b"/>
<circle cx="1386.3" cy="557.6" r="1.0" fill="#96a82b"/>
<circle cx="1386.3" cy="755.3" r="1.0" fill="#96a82b"/>
<circle cx="1386.3" cy="820.0" r="1.0" fill="#96a82b"/>
<circle cx="1386.3" cy="823.5" r="1.0" fill="#96a82b"/>
<circle cx="1386.3" cy="827.0" r="1.0" fill="#96a82b"/>
<circle cx="1386.3" cy="830.0" r="1.0" fill="#96a82b"/>
<circle cx="1386.3" cy="874.8" r="1.0" fill="#96a82b"/>
<circle cx="1386.3" cy="1012.5" r="1.0" fill="#96a82b"/>
<circle cx="402.0" cy="409.7" r="3.4" fill="#96a82b"/>
<circle cx="321.7" cy="287.8" r="4" fill="#86a550"/>
<circle cx="491.7" cy="287.8" r="3.5" fill="#96a82b"/>
<circle cx="440.7" cy="394.2" r="4.6" fill="#7fa552"/>
<circle cx="548.1" cy="412.3" r="6" fill="#b9a81a"/>
<circle cx="605.2" cy="531.3" r="4.8" fill="#7fa552"/>
<circle cx="607.4" cy="664.4" r="3.6" fill="#8ea63a"/>
<circle cx="596.3" cy="649.1" r="3.3" fill="#96a82b"/>
<circle cx="577.8" cy="627.4" r="3.3" fill="#96a82b"/>
<circle cx="928.9" cy="412.3" r="3.4" fill="#96a82b"/>
<circle cx="1019.2" cy="412.3" r="4.0" fill="#96a82b"/>
<circle cx="1047.2" cy="412.5" r="4.3" fill="#96a82b"/>
<circle cx="886.1" cy="427.8" r="5" fill="#aaa81a"/>
<circle cx="1331.8" cy="627.0" r="7" fill="#6b9e6e"/>
<circle cx="1160.7" cy="717.5" r="4.2" fill="#7fa552"/>
<circle cx="756.1" cy="749.6" r="3" fill="#96a82b"/>
<circle cx="954.9" cy="821.8" r="3" fill="#96a82b"/>
<circle cx="886.1" cy="846.0" r="4" fill="#86a550"/>
<circle cx="1127.1" cy="750.7" r="3.6" fill="#96a82b"/>
<circle cx="1171.1" cy="772.2" r="3.5" fill="#96a82b"/>
<circle cx="1161.0" cy="810.1" r="4.5" fill="#aaa81a"/>
<circle cx="1385.8" cy="1142.8" r="2.8" fill="#96a82b"/>
<circle cx="1385.8" cy="1148.7" r="3" fill="#96a82b"/>
<text x="765.6" y="1288" font-size="53.5" text-anchor="middle">Number of columns/reactions</text>
<text x="778" y="1354" font-size="53.5" text-anchor="middle">(4078 nonzero elements)</text>
<text transform="translate(40 594.2) rotate(-90)" font-size="53.5" text-anchor="middle">Number of rows/metabolites</text>
</svg>
</body></html>
